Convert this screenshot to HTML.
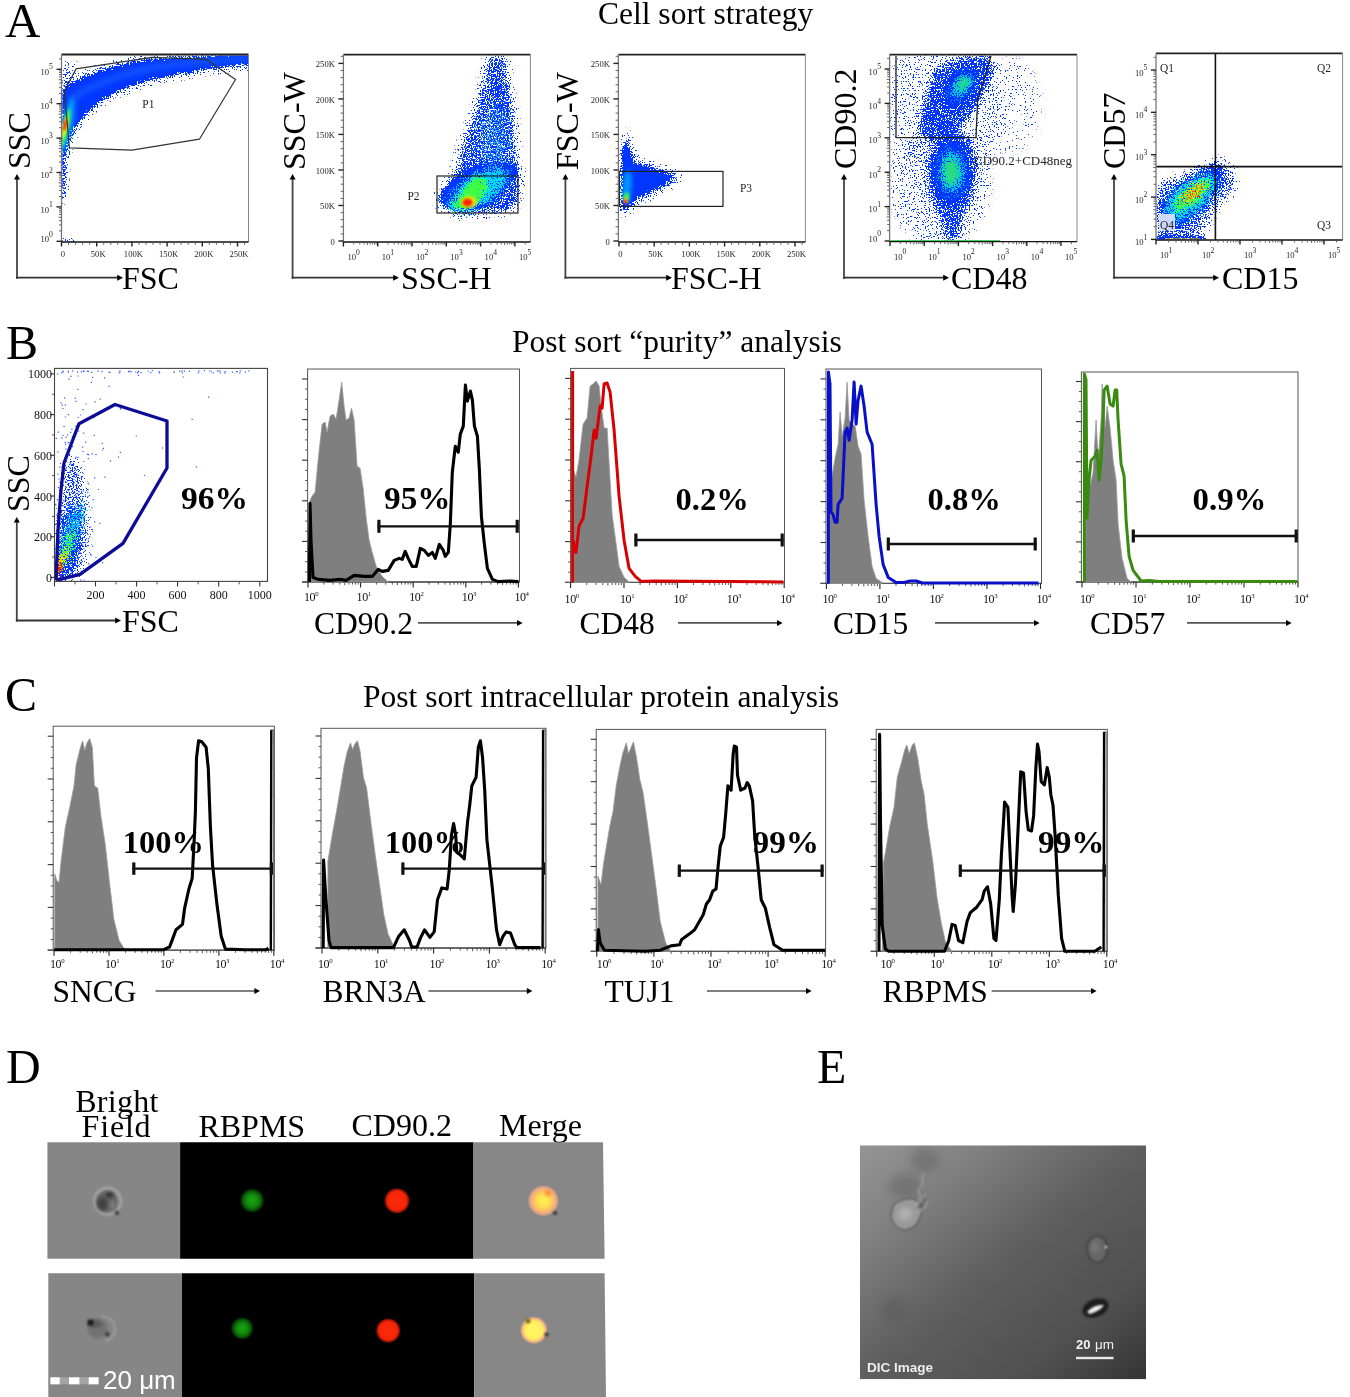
<!DOCTYPE html><html><head><meta charset="utf-8"><title>Figure</title><style>html,body{margin:0;padding:0;background:#fff;width:1350px;height:1397px;overflow:hidden}svg{display:block;will-change:transform}</style></head><body><svg width="1350" height="1397" viewBox="0 0 1350 1397"><defs><filter id="b0.8" x="-50%" y="-50%" width="200%" height="200%"><feGaussianBlur stdDeviation="0.8"/></filter><filter id="b1" x="-50%" y="-50%" width="200%" height="200%"><feGaussianBlur stdDeviation="1"/></filter><filter id="b1.0" x="-50%" y="-50%" width="200%" height="200%"><feGaussianBlur stdDeviation="1.0"/></filter><filter id="b1.2" x="-50%" y="-50%" width="200%" height="200%"><feGaussianBlur stdDeviation="1.2"/></filter><filter id="b1.5" x="-50%" y="-50%" width="200%" height="200%"><feGaussianBlur stdDeviation="1.5"/></filter><filter id="b1.8" x="-50%" y="-50%" width="200%" height="200%"><feGaussianBlur stdDeviation="1.8"/></filter><filter id="b2" x="-50%" y="-50%" width="200%" height="200%"><feGaussianBlur stdDeviation="2"/></filter><filter id="b2.2" x="-50%" y="-50%" width="200%" height="200%"><feGaussianBlur stdDeviation="2.2"/></filter><filter id="b2.5" x="-50%" y="-50%" width="200%" height="200%"><feGaussianBlur stdDeviation="2.5"/></filter><filter id="b3" x="-50%" y="-50%" width="200%" height="200%"><feGaussianBlur stdDeviation="3"/></filter><filter id="b4" x="-50%" y="-50%" width="200%" height="200%"><feGaussianBlur stdDeviation="4"/></filter><filter id="b5" x="-50%" y="-50%" width="200%" height="200%"><feGaussianBlur stdDeviation="5"/></filter><filter id="b6" x="-50%" y="-50%" width="200%" height="200%"><feGaussianBlur stdDeviation="6"/></filter><filter id="spk" filterUnits="userSpaceOnUse" x="0" y="0" width="1350" height="700" color-interpolation-filters="sRGB"><feGaussianBlur in="SourceGraphic" stdDeviation="1.6" result="d"/><feTurbulence type="fractalNoise" baseFrequency="0.75" numOctaves="2" seed="5" result="n"/><feColorMatrix in="n" type="matrix" values="0 0 0 0 0  0 0 0 0 0  0 0 0 0 0  2.5 0 0 0 -0.75" result="na"/><feComposite in="d" in2="na" operator="arithmetic" k1="0" k2="1.25" k3="-1" k4="0" result="diff"/><feColorMatrix in="diff" type="matrix" values="0 0 0 0 0  0 0 0 0 0  0 0 0 0 0  0 0 0 30 0" result="th"/><feFlood flood-color="#0036ff"/><feComposite in2="th" operator="in" result="c"/><feGaussianBlur in="c" stdDeviation="0.5"/></filter><filter id="spkc" filterUnits="userSpaceOnUse" x="0" y="0" width="1350" height="700" color-interpolation-filters="sRGB"><feGaussianBlur in="SourceGraphic" stdDeviation="1.0" result="d"/><feTurbulence type="fractalNoise" baseFrequency="0.8" numOctaves="2" seed="11" result="n"/><feColorMatrix in="n" type="matrix" values="0 0 0 0 0  0 0 0 0 0  0 0 0 0 0  2.5 0 0 0 -0.75" result="na"/><feComposite in="d" in2="na" operator="arithmetic" k1="0" k2="1.25" k3="-1" k4="0" result="diff"/><feColorMatrix in="diff" type="matrix" values="0 0 0 0 0  0 0 0 0 0  0 0 0 0 0  0 0 0 30 0" result="th"/><feColorMatrix in="d" type="matrix" values="1 0 0 0 0  0 1 0 0 0  0 0 1 0 0  0 0 0 0 1" result="col"/><feComposite in="col" in2="th" operator="in" result="c"/><feGaussianBlur in="c" stdDeviation="0.3"/></filter><filter id="s1" filterUnits="userSpaceOnUse" x="0" y="0" width="1350" height="700" color-interpolation-filters="sRGB"><feGaussianBlur in="SourceGraphic" stdDeviation="0.8" result="d"/><feTurbulence type="fractalNoise" baseFrequency="0.85" numOctaves="2" seed="23" result="n"/><feColorMatrix in="n" type="matrix" values="0 0 0 0 0  0 0 0 0 0  0 0 0 0 0  2.5 0 0 0 -0.75" result="na"/><feComposite in="d" in2="na" operator="arithmetic" k1="0" k2="1.2" k3="-1" k4="0" result="diff"/><feColorMatrix in="diff" type="matrix" values="0 0 0 0 0  0 0 0 0 0  0 0 0 0 0  0 0 0 30 0" result="th"/><feColorMatrix in="d" type="matrix" values="1 0 0 0 0  0 1 0 0 0  0 0 1 0 0  0 0 0 0 1" result="col"/><feComposite in="col" in2="th" operator="in" result="c"/><feGaussianBlur in="c" stdDeviation="0.45"/></filter><filter id="s2" filterUnits="userSpaceOnUse" x="0" y="0" width="1350" height="700" color-interpolation-filters="sRGB"><feGaussianBlur in="SourceGraphic" stdDeviation="0.8" result="d"/><feTurbulence type="fractalNoise" baseFrequency="0.85" numOctaves="2" seed="41" result="n"/><feColorMatrix in="n" type="matrix" values="0 0 0 0 0  0 0 0 0 0  0 0 0 0 0  2.5 0 0 0 -0.75" result="na"/><feComposite in="d" in2="na" operator="arithmetic" k1="0" k2="1.2" k3="-1" k4="0" result="diff"/><feColorMatrix in="diff" type="matrix" values="0 0 0 0 0  0 0 0 0 0  0 0 0 0 0  0 0 0 30 0" result="th"/><feColorMatrix in="d" type="matrix" values="1 0 0 0 0  0 1 0 0 0  0 0 1 0 0  0 0 0 0 1" result="col"/><feComposite in="col" in2="th" operator="in" result="c"/><feGaussianBlur in="c" stdDeviation="0.45"/></filter><filter id="s3" filterUnits="userSpaceOnUse" x="0" y="0" width="1350" height="700" color-interpolation-filters="sRGB"><feGaussianBlur in="SourceGraphic" stdDeviation="0.8" result="d"/><feTurbulence type="fractalNoise" baseFrequency="0.85" numOctaves="2" seed="67" result="n"/><feColorMatrix in="n" type="matrix" values="0 0 0 0 0  0 0 0 0 0  0 0 0 0 0  2.5 0 0 0 -0.75" result="na"/><feComposite in="d" in2="na" operator="arithmetic" k1="0" k2="1.2" k3="-1" k4="0" result="diff"/><feColorMatrix in="diff" type="matrix" values="0 0 0 0 0  0 0 0 0 0  0 0 0 0 0  0 0 0 30 0" result="th"/><feColorMatrix in="d" type="matrix" values="1 0 0 0 0  0 1 0 0 0  0 0 1 0 0  0 0 0 0 1" result="col"/><feComposite in="col" in2="th" operator="in" result="c"/><feGaussianBlur in="c" stdDeviation="0.45"/></filter><clipPath id="c1"><rect x="62.2" y="55.5" width="186.3" height="186"/></clipPath><clipPath id="c2"><rect x="344.1" y="55.6" width="186.3" height="185.9"/></clipPath><clipPath id="c3"><rect x="619.1" y="55.6" width="186.3" height="185.9"/></clipPath><clipPath id="c4"><rect x="890.3" y="55.6" width="186.7" height="185.5"/></clipPath><clipPath id="c5"><rect x="1156.7" y="54.4" width="185.9" height="185.1"/></clipPath><clipPath id="c6"><rect x="55" y="368.9" width="212" height="212"/></clipPath><radialGradient id="gG"><stop offset="0" stop-color="#1aa810"/><stop offset="0.45" stop-color="#108a0c"/><stop offset="0.75" stop-color="#084a06"/><stop offset="1" stop-color="#000" stop-opacity="0"/></radialGradient><radialGradient id="gR"><stop offset="0" stop-color="#fa2a0a"/><stop offset="0.7" stop-color="#f52508"/><stop offset="0.88" stop-color="#801004"/><stop offset="1" stop-color="#000" stop-opacity="0"/></radialGradient><radialGradient id="gM1"><stop offset="0" stop-color="#fff45a"/><stop offset="0.45" stop-color="#fcd850"/><stop offset="0.75" stop-color="#f6ae7a"/><stop offset="0.9" stop-color="#d8a090" stop-opacity="0.8"/><stop offset="1" stop-color="#888" stop-opacity="0"/></radialGradient><radialGradient id="gM2"><stop offset="0" stop-color="#fff864"/><stop offset="0.6" stop-color="#fff060"/><stop offset="0.8" stop-color="#f8b880"/><stop offset="0.92" stop-color="#c09890" stop-opacity="0.7"/><stop offset="1" stop-color="#888" stop-opacity="0"/></radialGradient><radialGradient id="gBF"><stop offset="0" stop-color="#606060"/><stop offset="0.6" stop-color="#4c4c4c"/><stop offset="0.72" stop-color="#6a6a6a"/><stop offset="0.86" stop-color="#a0a0a0"/><stop offset="1" stop-color="#868686" stop-opacity="0"/></radialGradient><linearGradient id="gDIC2" x1="0" y1="0" x2="1" y2="1"><stop offset="0" stop-color="#959595"/><stop offset="0.22" stop-color="#808080"/><stop offset="0.5" stop-color="#5e5e5e"/><stop offset="0.78" stop-color="#505050"/><stop offset="1" stop-color="#343434"/></linearGradient><clipPath id="cDIC"><rect x="860" y="1145.3" width="286" height="234"/></clipPath></defs><text x="5" y="37" font-size="49" fill="#000" font-family='"Liberation Serif", serif'>A</text>
<text x="6" y="358.6" font-size="48" fill="#000" font-family='"Liberation Serif", serif'>B</text>
<text x="5" y="710.5" font-size="48" fill="#000" font-family='"Liberation Serif", serif'>C</text>
<text x="6" y="1082.7" font-size="48" fill="#000" font-family='"Liberation Serif", serif'>D</text>
<text x="817" y="1082.7" font-size="48" fill="#000" font-family='"Liberation Serif", serif'>E</text>
<text x="598" y="24" font-size="31.5" fill="#000" font-family='"Liberation Serif", serif'>Cell sort strategy</text>
<text x="512" y="351.5" font-size="31.5" fill="#000" font-family='"Liberation Serif", serif'>Post sort “purity” analysis</text>
<text x="363" y="707" font-size="31.5" fill="#000" font-family='"Liberation Serif", serif'>Post sort intracellular protein analysis</text>
<g clip-path="url(#c1)">
<g filter="url(#spk)">
<polygon points="62,90 63.9,88 69.8,82 84.6,74.6 99.4,68.7 121.7,62.8 143.9,58.3 173.5,55.4 203,53.9 252,51 254,65.5 205,71 190.3,74 160.7,79.4 138.5,85.5 116.3,94 101.4,103 86.6,116.5 76.3,128.5 67.9,146.5 65,167.5 63,177.5" fill="#000" fill-opacity="0.4" filter="url(#b2.5)"/>
<polygon points="62,93 63.9,91 69.8,85 84.6,77.6 99.4,71.7 121.7,65.8 143.9,61.3 173.5,58.4 203,56.9 252,54 252,63 203,68.5 188.3,71.5 158.7,76.9 136.5,83 114.3,91.5 99.4,100.5 84.6,114 74.3,126 66.9,144 64,165 62,175" fill="#000" fill-opacity="0.92" filter="url(#b1.0)"/>
<polygon points="61,60 68,72 76,64 70,90 62,100" fill="#000" fill-opacity="0.35" filter="url(#b3)"/>
<polygon points="61,165 66,165 65,195 61,205" fill="#000" fill-opacity="0.6" filter="url(#b1.5)"/>
<polygon points="62,240.5 75,240.5 75,242.5 62,242.5" fill="#000"/>
</g>
<polyline points="70,100 85,90 100,84 125,74 160,66 200,62 250,58" fill="none" stroke="#3a8cff" stroke-width="6" stroke-linejoin="round" opacity="0.4" filter="url(#b3)"/>
<ellipse cx="67" cy="125" rx="5" ry="28" fill="#00d8ff" fill-opacity="0.7" filter="url(#b2.5)" transform="rotate(12 67 125)"/>
<ellipse cx="65.5" cy="128" rx="3" ry="20" fill="#40ff40" fill-opacity="0.85" filter="url(#b1.8)" transform="rotate(12 65.5 128)"/>
<ellipse cx="65" cy="127" rx="2.2" ry="12" fill="#ffee00" fill-opacity="0.9" filter="url(#b1.2)" transform="rotate(12 65 127)"/>
<ellipse cx="65" cy="125" rx="1.6" ry="6" fill="#ff2000" filter="url(#b1)" transform="rotate(12 65 125)"/>
</g>
<polyline points="64.5,91 76,68.9 152,57.3 206,59.3 235.5,79.5 199.4,139.2 132,150.2 69.4,147.9 64.5,91" fill="none" stroke="#333" stroke-width="1.2" stroke-linejoin="round"/>
<text x="148.4" y="107.5" font-size="11.5" text-anchor="middle" fill="#222" font-family='"Liberation Serif", serif'>P1</text>
<line x1="61.5" y1="54.5" x2="248.5" y2="54.5" stroke="#222" stroke-width="1.8"/>
<line x1="248.5" y1="54.5" x2="248.5" y2="242" stroke="#888" stroke-width="1.0"/>
<line x1="61.5" y1="54.5" x2="61.5" y2="242" stroke="#777" stroke-width="1.3"/>
<line x1="61.5" y1="242" x2="248.5" y2="242" stroke="#111" stroke-width="1.4"/>
<line x1="61.5" y1="242" x2="61.5" y2="246.5" stroke="#222" stroke-width="1.4"/>
<text x="63" y="256.5" font-size="8.6" text-anchor="middle" fill="#262626" font-family='"Liberation Serif", serif'>0</text>
<line x1="96.7" y1="242" x2="96.7" y2="246.5" stroke="#222" stroke-width="1.4"/>
<text x="98.2" y="256.5" font-size="8.6" text-anchor="middle" fill="#262626" font-family='"Liberation Serif", serif'>50K</text>
<line x1="131.9" y1="242" x2="131.9" y2="246.5" stroke="#222" stroke-width="1.4"/>
<text x="133.4" y="256.5" font-size="8.6" text-anchor="middle" fill="#262626" font-family='"Liberation Serif", serif'>100K</text>
<line x1="167.1" y1="242" x2="167.1" y2="246.5" stroke="#222" stroke-width="1.4"/>
<text x="168.6" y="256.5" font-size="8.6" text-anchor="middle" fill="#262626" font-family='"Liberation Serif", serif'>150K</text>
<line x1="202.3" y1="242" x2="202.3" y2="246.5" stroke="#222" stroke-width="1.4"/>
<text x="203.8" y="256.5" font-size="8.6" text-anchor="middle" fill="#262626" font-family='"Liberation Serif", serif'>200K</text>
<line x1="237.5" y1="242" x2="237.5" y2="246.5" stroke="#222" stroke-width="1.4"/>
<text x="239" y="256.5" font-size="8.6" text-anchor="middle" fill="#262626" font-family='"Liberation Serif", serif'>250K</text>
<line x1="68.5" y1="242" x2="68.5" y2="244.8" stroke="#555" stroke-width="0.9"/>
<line x1="75.6" y1="242" x2="75.6" y2="244.8" stroke="#555" stroke-width="0.9"/>
<line x1="82.6" y1="242" x2="82.6" y2="244.8" stroke="#555" stroke-width="0.9"/>
<line x1="89.7" y1="242" x2="89.7" y2="244.8" stroke="#555" stroke-width="0.9"/>
<line x1="103.7" y1="242" x2="103.7" y2="244.8" stroke="#555" stroke-width="0.9"/>
<line x1="110.8" y1="242" x2="110.8" y2="244.8" stroke="#555" stroke-width="0.9"/>
<line x1="117.8" y1="242" x2="117.8" y2="244.8" stroke="#555" stroke-width="0.9"/>
<line x1="124.9" y1="242" x2="124.9" y2="244.8" stroke="#555" stroke-width="0.9"/>
<line x1="138.9" y1="242" x2="138.9" y2="244.8" stroke="#555" stroke-width="0.9"/>
<line x1="146" y1="242" x2="146" y2="244.8" stroke="#555" stroke-width="0.9"/>
<line x1="153" y1="242" x2="153" y2="244.8" stroke="#555" stroke-width="0.9"/>
<line x1="160.1" y1="242" x2="160.1" y2="244.8" stroke="#555" stroke-width="0.9"/>
<line x1="174.1" y1="242" x2="174.1" y2="244.8" stroke="#555" stroke-width="0.9"/>
<line x1="181.2" y1="242" x2="181.2" y2="244.8" stroke="#555" stroke-width="0.9"/>
<line x1="188.2" y1="242" x2="188.2" y2="244.8" stroke="#555" stroke-width="0.9"/>
<line x1="195.3" y1="242" x2="195.3" y2="244.8" stroke="#555" stroke-width="0.9"/>
<line x1="209.3" y1="242" x2="209.3" y2="244.8" stroke="#555" stroke-width="0.9"/>
<line x1="216.4" y1="242" x2="216.4" y2="244.8" stroke="#555" stroke-width="0.9"/>
<line x1="223.4" y1="242" x2="223.4" y2="244.8" stroke="#555" stroke-width="0.9"/>
<line x1="230.5" y1="242" x2="230.5" y2="244.8" stroke="#555" stroke-width="0.9"/>
<line x1="244.5" y1="242" x2="244.5" y2="244.8" stroke="#555" stroke-width="0.9"/>
<line x1="56.5" y1="241.3" x2="61.5" y2="241.3" stroke="#222" stroke-width="1.4"/>
<text x="40.5" y="242.1" font-size="8.6" fill="#262626" font-family='"Liberation Serif", serif'>10<tspan dy="-5.5" font-size="7.6">0</tspan></text>
<line x1="59" y1="230.9" x2="61.5" y2="230.9" stroke="#555" stroke-width="0.9"/>
<line x1="59" y1="224.9" x2="61.5" y2="224.9" stroke="#555" stroke-width="0.9"/>
<line x1="59" y1="220.6" x2="61.5" y2="220.6" stroke="#555" stroke-width="0.9"/>
<line x1="58.5" y1="217.3" x2="61.5" y2="217.3" stroke="#555" stroke-width="0.9"/>
<line x1="59" y1="214.5" x2="61.5" y2="214.5" stroke="#555" stroke-width="0.9"/>
<line x1="59" y1="212.2" x2="61.5" y2="212.2" stroke="#555" stroke-width="0.9"/>
<line x1="59" y1="210.2" x2="61.5" y2="210.2" stroke="#555" stroke-width="0.9"/>
<line x1="59" y1="208.5" x2="61.5" y2="208.5" stroke="#555" stroke-width="0.9"/>
<line x1="56.5" y1="206.9" x2="61.5" y2="206.9" stroke="#222" stroke-width="1.4"/>
<text x="40.5" y="212.5" font-size="8.6" fill="#262626" font-family='"Liberation Serif", serif'>10<tspan dy="-5.5" font-size="7.6">1</tspan></text>
<line x1="59" y1="196.5" x2="61.5" y2="196.5" stroke="#555" stroke-width="0.9"/>
<line x1="59" y1="190.5" x2="61.5" y2="190.5" stroke="#555" stroke-width="0.9"/>
<line x1="59" y1="186.2" x2="61.5" y2="186.2" stroke="#555" stroke-width="0.9"/>
<line x1="58.5" y1="182.9" x2="61.5" y2="182.9" stroke="#555" stroke-width="0.9"/>
<line x1="59" y1="180.1" x2="61.5" y2="180.1" stroke="#555" stroke-width="0.9"/>
<line x1="59" y1="177.8" x2="61.5" y2="177.8" stroke="#555" stroke-width="0.9"/>
<line x1="59" y1="175.8" x2="61.5" y2="175.8" stroke="#555" stroke-width="0.9"/>
<line x1="59" y1="174.1" x2="61.5" y2="174.1" stroke="#555" stroke-width="0.9"/>
<line x1="56.5" y1="172.5" x2="61.5" y2="172.5" stroke="#222" stroke-width="1.4"/>
<text x="40.5" y="178.1" font-size="8.6" fill="#262626" font-family='"Liberation Serif", serif'>10<tspan dy="-5.5" font-size="7.6">2</tspan></text>
<line x1="59" y1="162.1" x2="61.5" y2="162.1" stroke="#555" stroke-width="0.9"/>
<line x1="59" y1="156.1" x2="61.5" y2="156.1" stroke="#555" stroke-width="0.9"/>
<line x1="59" y1="151.8" x2="61.5" y2="151.8" stroke="#555" stroke-width="0.9"/>
<line x1="58.5" y1="148.5" x2="61.5" y2="148.5" stroke="#555" stroke-width="0.9"/>
<line x1="59" y1="145.7" x2="61.5" y2="145.7" stroke="#555" stroke-width="0.9"/>
<line x1="59" y1="143.4" x2="61.5" y2="143.4" stroke="#555" stroke-width="0.9"/>
<line x1="59" y1="141.4" x2="61.5" y2="141.4" stroke="#555" stroke-width="0.9"/>
<line x1="59" y1="139.7" x2="61.5" y2="139.7" stroke="#555" stroke-width="0.9"/>
<line x1="56.5" y1="138.1" x2="61.5" y2="138.1" stroke="#222" stroke-width="1.4"/>
<text x="40.5" y="143.7" font-size="8.6" fill="#262626" font-family='"Liberation Serif", serif'>10<tspan dy="-5.5" font-size="7.6">3</tspan></text>
<line x1="59" y1="127.7" x2="61.5" y2="127.7" stroke="#555" stroke-width="0.9"/>
<line x1="59" y1="121.7" x2="61.5" y2="121.7" stroke="#555" stroke-width="0.9"/>
<line x1="59" y1="117.4" x2="61.5" y2="117.4" stroke="#555" stroke-width="0.9"/>
<line x1="58.5" y1="114.1" x2="61.5" y2="114.1" stroke="#555" stroke-width="0.9"/>
<line x1="59" y1="111.3" x2="61.5" y2="111.3" stroke="#555" stroke-width="0.9"/>
<line x1="59" y1="109" x2="61.5" y2="109" stroke="#555" stroke-width="0.9"/>
<line x1="59" y1="107" x2="61.5" y2="107" stroke="#555" stroke-width="0.9"/>
<line x1="59" y1="105.3" x2="61.5" y2="105.3" stroke="#555" stroke-width="0.9"/>
<line x1="56.5" y1="103.7" x2="61.5" y2="103.7" stroke="#222" stroke-width="1.4"/>
<text x="40.5" y="109.3" font-size="8.6" fill="#262626" font-family='"Liberation Serif", serif'>10<tspan dy="-5.5" font-size="7.6">4</tspan></text>
<line x1="59" y1="93.3" x2="61.5" y2="93.3" stroke="#555" stroke-width="0.9"/>
<line x1="59" y1="87.3" x2="61.5" y2="87.3" stroke="#555" stroke-width="0.9"/>
<line x1="59" y1="83" x2="61.5" y2="83" stroke="#555" stroke-width="0.9"/>
<line x1="58.5" y1="79.7" x2="61.5" y2="79.7" stroke="#555" stroke-width="0.9"/>
<line x1="59" y1="76.9" x2="61.5" y2="76.9" stroke="#555" stroke-width="0.9"/>
<line x1="59" y1="74.6" x2="61.5" y2="74.6" stroke="#555" stroke-width="0.9"/>
<line x1="59" y1="72.6" x2="61.5" y2="72.6" stroke="#555" stroke-width="0.9"/>
<line x1="59" y1="70.9" x2="61.5" y2="70.9" stroke="#555" stroke-width="0.9"/>
<line x1="56.5" y1="69.3" x2="61.5" y2="69.3" stroke="#222" stroke-width="1.4"/>
<text x="40.5" y="74.9" font-size="8.6" fill="#262626" font-family='"Liberation Serif", serif'>10<tspan dy="-5.5" font-size="7.6">5</tspan></text>
<line x1="59" y1="58.9" x2="61.5" y2="58.9" stroke="#555" stroke-width="0.9"/>
<text transform="translate(30,169) rotate(-90)" font-size="32" fill="#000" font-family='"Liberation Serif", serif'>SSC</text>
<text x="122" y="288.5" font-size="32" fill="#000" font-family='"Liberation Serif", serif'>FSC</text>
<line x1="17" y1="278.7" x2="17" y2="179" stroke="#444" stroke-width="1.8"/>
<line x1="16.1" y1="277.7" x2="118" y2="277.7" stroke="#333" stroke-width="1.8"/>
<polygon points="17,174 14,179.6 20,179.6" fill="#000" stroke="none" stroke-width="1"/>
<polygon points="123,277.7 117.2,274.7 117.2,280.7" fill="#000" stroke="none" stroke-width="1"/>
<g clip-path="url(#c2)">
<g filter="url(#spk)">
<polygon points="487.9,56 507,56 509.1,80 515.4,120 517.6,160 521.8,172 517.6,200 504.8,212 479.4,214 458.2,216 441.2,208 434.9,198 441.2,188 454,172 458.2,152 464.6,132 475.2,108 483.6,80" fill="#000" fill-opacity="0.2" filter="url(#b3)"/>
<polygon points="488.1,56 505.4,56 507.3,80 513,120 515,160 518.8,172 515,200 503.4,212 480.4,214 461.2,216 445.8,208 440.1,198 445.8,188 457.4,172 461.2,152 467,132 476.6,108 484.2,80" fill="#000" fill-opacity="0.36" filter="url(#b2)"/>
<ellipse cx="500" cy="120" rx="9" ry="40" fill="#000" fill-opacity="0.2" filter="url(#b4)"/>
<polygon points="439,199 446,205 455,209 470,210 483,208 493,203 502,194 510,184 516,174 518,165 505,162 485,164 466,170 452,182 442,192" fill="#000" fill-opacity="0.92" filter="url(#b1.5)"/>
<polygon points="495,208 505,200 515,186 520,180 518,205 505,212" fill="#000" fill-opacity="0.3" filter="url(#b2)"/>
</g>
<g filter="url(#s1)">
<ellipse cx="495" cy="140" rx="14" ry="35" fill="#30b0ff" fill-opacity="0.35" filter="url(#b5)"/>
<polygon points="446,206 455,195 465,180 478,173 500,170 510,176 500,192 486,204 468,210 455,211" fill="#00d8ff" fill-opacity="0.7" filter="url(#b3)"/>
</g>
<g filter="url(#s2)">
<polygon points="452,207 458,198 466,186 474,178 484,178 488,186 482,198 472,206 462,209" fill="#40ff40" fill-opacity="0.85" filter="url(#b2)"/>
</g>
<ellipse cx="469" cy="202" rx="8" ry="6" fill="#ffe000" fill-opacity="0.9" filter="url(#b1.5)"/>
<ellipse cx="467.5" cy="202.5" rx="5" ry="3.8" fill="#ff2000" filter="url(#b1)"/>
</g>
<rect x="437" y="176" width="81" height="37" fill="none" stroke="#222" stroke-width="1.2"/>
<text x="413.5" y="199.5" font-size="11.5" text-anchor="middle" fill="#222" font-family='"Liberation Serif", serif'>P2</text>
<line x1="343.4" y1="54.6" x2="530.4" y2="54.6" stroke="#222" stroke-width="1.8"/>
<line x1="530.4" y1="54.6" x2="530.4" y2="242" stroke="#888" stroke-width="1.0"/>
<line x1="343.4" y1="54.6" x2="343.4" y2="242" stroke="#777" stroke-width="1.3"/>
<line x1="343.4" y1="242" x2="530.4" y2="242" stroke="#111" stroke-width="1.4"/>
<line x1="343.4" y1="242" x2="343.4" y2="246.5" stroke="#222" stroke-width="1.4"/>
<text x="347.4" y="260.2" font-size="8.6" fill="#262626" font-family='"Liberation Serif", serif'>10<tspan dy="-5.5" font-size="7.6">0</tspan></text>
<line x1="353.7" y1="242" x2="353.7" y2="244.5" stroke="#555" stroke-width="0.9"/>
<line x1="359.8" y1="242" x2="359.8" y2="244.5" stroke="#555" stroke-width="0.9"/>
<line x1="364.1" y1="242" x2="364.1" y2="244.5" stroke="#555" stroke-width="0.9"/>
<line x1="367.4" y1="242" x2="367.4" y2="245" stroke="#555" stroke-width="0.9"/>
<line x1="370.1" y1="242" x2="370.1" y2="244.5" stroke="#555" stroke-width="0.9"/>
<line x1="372.4" y1="242" x2="372.4" y2="244.5" stroke="#555" stroke-width="0.9"/>
<line x1="374.4" y1="242" x2="374.4" y2="244.5" stroke="#555" stroke-width="0.9"/>
<line x1="376.1" y1="242" x2="376.1" y2="244.5" stroke="#555" stroke-width="0.9"/>
<line x1="377.7" y1="242" x2="377.7" y2="246.5" stroke="#222" stroke-width="1.4"/>
<text x="381.7" y="260.2" font-size="8.6" fill="#262626" font-family='"Liberation Serif", serif'>10<tspan dy="-5.5" font-size="7.6">1</tspan></text>
<line x1="388" y1="242" x2="388" y2="244.5" stroke="#555" stroke-width="0.9"/>
<line x1="394.1" y1="242" x2="394.1" y2="244.5" stroke="#555" stroke-width="0.9"/>
<line x1="398.4" y1="242" x2="398.4" y2="244.5" stroke="#555" stroke-width="0.9"/>
<line x1="401.7" y1="242" x2="401.7" y2="245" stroke="#555" stroke-width="0.9"/>
<line x1="404.4" y1="242" x2="404.4" y2="244.5" stroke="#555" stroke-width="0.9"/>
<line x1="406.7" y1="242" x2="406.7" y2="244.5" stroke="#555" stroke-width="0.9"/>
<line x1="408.7" y1="242" x2="408.7" y2="244.5" stroke="#555" stroke-width="0.9"/>
<line x1="410.4" y1="242" x2="410.4" y2="244.5" stroke="#555" stroke-width="0.9"/>
<line x1="412" y1="242" x2="412" y2="246.5" stroke="#222" stroke-width="1.4"/>
<text x="416" y="260.2" font-size="8.6" fill="#262626" font-family='"Liberation Serif", serif'>10<tspan dy="-5.5" font-size="7.6">2</tspan></text>
<line x1="422.3" y1="242" x2="422.3" y2="244.5" stroke="#555" stroke-width="0.9"/>
<line x1="428.4" y1="242" x2="428.4" y2="244.5" stroke="#555" stroke-width="0.9"/>
<line x1="432.7" y1="242" x2="432.7" y2="244.5" stroke="#555" stroke-width="0.9"/>
<line x1="436" y1="242" x2="436" y2="245" stroke="#555" stroke-width="0.9"/>
<line x1="438.7" y1="242" x2="438.7" y2="244.5" stroke="#555" stroke-width="0.9"/>
<line x1="441" y1="242" x2="441" y2="244.5" stroke="#555" stroke-width="0.9"/>
<line x1="443" y1="242" x2="443" y2="244.5" stroke="#555" stroke-width="0.9"/>
<line x1="444.7" y1="242" x2="444.7" y2="244.5" stroke="#555" stroke-width="0.9"/>
<line x1="446.3" y1="242" x2="446.3" y2="246.5" stroke="#222" stroke-width="1.4"/>
<text x="450.3" y="260.2" font-size="8.6" fill="#262626" font-family='"Liberation Serif", serif'>10<tspan dy="-5.5" font-size="7.6">3</tspan></text>
<line x1="456.6" y1="242" x2="456.6" y2="244.5" stroke="#555" stroke-width="0.9"/>
<line x1="462.7" y1="242" x2="462.7" y2="244.5" stroke="#555" stroke-width="0.9"/>
<line x1="467" y1="242" x2="467" y2="244.5" stroke="#555" stroke-width="0.9"/>
<line x1="470.3" y1="242" x2="470.3" y2="245" stroke="#555" stroke-width="0.9"/>
<line x1="473" y1="242" x2="473" y2="244.5" stroke="#555" stroke-width="0.9"/>
<line x1="475.3" y1="242" x2="475.3" y2="244.5" stroke="#555" stroke-width="0.9"/>
<line x1="477.3" y1="242" x2="477.3" y2="244.5" stroke="#555" stroke-width="0.9"/>
<line x1="479" y1="242" x2="479" y2="244.5" stroke="#555" stroke-width="0.9"/>
<line x1="480.6" y1="242" x2="480.6" y2="246.5" stroke="#222" stroke-width="1.4"/>
<text x="484.6" y="260.2" font-size="8.6" fill="#262626" font-family='"Liberation Serif", serif'>10<tspan dy="-5.5" font-size="7.6">4</tspan></text>
<line x1="490.9" y1="242" x2="490.9" y2="244.5" stroke="#555" stroke-width="0.9"/>
<line x1="497" y1="242" x2="497" y2="244.5" stroke="#555" stroke-width="0.9"/>
<line x1="501.3" y1="242" x2="501.3" y2="244.5" stroke="#555" stroke-width="0.9"/>
<line x1="504.6" y1="242" x2="504.6" y2="245" stroke="#555" stroke-width="0.9"/>
<line x1="507.3" y1="242" x2="507.3" y2="244.5" stroke="#555" stroke-width="0.9"/>
<line x1="509.6" y1="242" x2="509.6" y2="244.5" stroke="#555" stroke-width="0.9"/>
<line x1="511.6" y1="242" x2="511.6" y2="244.5" stroke="#555" stroke-width="0.9"/>
<line x1="513.3" y1="242" x2="513.3" y2="244.5" stroke="#555" stroke-width="0.9"/>
<line x1="514.9" y1="242" x2="514.9" y2="246.5" stroke="#222" stroke-width="1.4"/>
<text x="518.9" y="260.2" font-size="8.6" fill="#262626" font-family='"Liberation Serif", serif'>10<tspan dy="-5.5" font-size="7.6">5</tspan></text>
<line x1="525.2" y1="242" x2="525.2" y2="244.5" stroke="#555" stroke-width="0.9"/>
<line x1="338.4" y1="241" x2="343.4" y2="241" stroke="#222" stroke-width="1.4"/>
<text x="334.9" y="244.8" font-size="8.6" text-anchor="end" fill="#262626" font-family='"Liberation Serif", serif'>0</text>
<line x1="338.4" y1="205.5" x2="343.4" y2="205.5" stroke="#222" stroke-width="1.4"/>
<text x="334.9" y="209.3" font-size="8.6" text-anchor="end" fill="#262626" font-family='"Liberation Serif", serif'>50K</text>
<line x1="338.4" y1="170" x2="343.4" y2="170" stroke="#222" stroke-width="1.4"/>
<text x="334.9" y="173.8" font-size="8.6" text-anchor="end" fill="#262626" font-family='"Liberation Serif", serif'>100K</text>
<line x1="338.4" y1="134.4" x2="343.4" y2="134.4" stroke="#222" stroke-width="1.4"/>
<text x="334.9" y="138.2" font-size="8.6" text-anchor="end" fill="#262626" font-family='"Liberation Serif", serif'>150K</text>
<line x1="338.4" y1="98.9" x2="343.4" y2="98.9" stroke="#222" stroke-width="1.4"/>
<text x="334.9" y="102.7" font-size="8.6" text-anchor="end" fill="#262626" font-family='"Liberation Serif", serif'>200K</text>
<line x1="338.4" y1="63.4" x2="343.4" y2="63.4" stroke="#222" stroke-width="1.4"/>
<text x="334.9" y="67.2" font-size="8.6" text-anchor="end" fill="#262626" font-family='"Liberation Serif", serif'>250K</text>
<line x1="340.6" y1="233.9" x2="343.4" y2="233.9" stroke="#555" stroke-width="0.9"/>
<line x1="340.6" y1="226.8" x2="343.4" y2="226.8" stroke="#555" stroke-width="0.9"/>
<line x1="340.6" y1="219.7" x2="343.4" y2="219.7" stroke="#555" stroke-width="0.9"/>
<line x1="340.6" y1="212.6" x2="343.4" y2="212.6" stroke="#555" stroke-width="0.9"/>
<line x1="340.6" y1="198.4" x2="343.4" y2="198.4" stroke="#555" stroke-width="0.9"/>
<line x1="340.6" y1="191.3" x2="343.4" y2="191.3" stroke="#555" stroke-width="0.9"/>
<line x1="340.6" y1="184.2" x2="343.4" y2="184.2" stroke="#555" stroke-width="0.9"/>
<line x1="340.6" y1="177.1" x2="343.4" y2="177.1" stroke="#555" stroke-width="0.9"/>
<line x1="340.6" y1="162.9" x2="343.4" y2="162.9" stroke="#555" stroke-width="0.9"/>
<line x1="340.6" y1="155.8" x2="343.4" y2="155.8" stroke="#555" stroke-width="0.9"/>
<line x1="340.6" y1="148.6" x2="343.4" y2="148.6" stroke="#555" stroke-width="0.9"/>
<line x1="340.6" y1="141.5" x2="343.4" y2="141.5" stroke="#555" stroke-width="0.9"/>
<line x1="340.6" y1="127.3" x2="343.4" y2="127.3" stroke="#555" stroke-width="0.9"/>
<line x1="340.6" y1="120.2" x2="343.4" y2="120.2" stroke="#555" stroke-width="0.9"/>
<line x1="340.6" y1="113.1" x2="343.4" y2="113.1" stroke="#555" stroke-width="0.9"/>
<line x1="340.6" y1="106" x2="343.4" y2="106" stroke="#555" stroke-width="0.9"/>
<line x1="340.6" y1="91.8" x2="343.4" y2="91.8" stroke="#555" stroke-width="0.9"/>
<line x1="340.6" y1="84.7" x2="343.4" y2="84.7" stroke="#555" stroke-width="0.9"/>
<line x1="340.6" y1="77.6" x2="343.4" y2="77.6" stroke="#555" stroke-width="0.9"/>
<line x1="340.6" y1="70.5" x2="343.4" y2="70.5" stroke="#555" stroke-width="0.9"/>
<line x1="340.6" y1="56.3" x2="343.4" y2="56.3" stroke="#555" stroke-width="0.9"/>
<text transform="translate(305,170) rotate(-90)" font-size="32" fill="#000" font-family='"Liberation Serif", serif'>SSC-W</text>
<text x="401" y="289" font-size="32" fill="#000" font-family='"Liberation Serif", serif'>SSC-H</text>
<line x1="292.6" y1="278.7" x2="292.6" y2="179" stroke="#444" stroke-width="1.8"/>
<line x1="291.7" y1="277.7" x2="394" y2="277.7" stroke="#333" stroke-width="1.8"/>
<polygon points="292.6,174 289.6,179.6 295.6,179.6" fill="#000" stroke="none" stroke-width="1"/>
<polygon points="399,277.7 393.2,274.7 393.2,280.7" fill="#000" stroke="none" stroke-width="1"/>
<g clip-path="url(#c3)">
<g filter="url(#spk)">
<polygon points="622,214 621,150 625,130 632,148 636,161 652,164 668,170 680,178 664,190 647,197 636,203 630,210" fill="#000" fill-opacity="0.4" filter="url(#b2.5)"/>
<polygon points="622,212 622,150 626,142 631,152 634,164 650,168 665,173 673,178 660,187 645,193 635,198 629,205" fill="#000" fill-opacity="0.9" filter="url(#b1.2)"/>
</g>
<ellipse cx="627" cy="186" rx="4.5" ry="16" fill="#00d8ff" fill-opacity="0.6" filter="url(#b2.2)" transform="rotate(5 627 186)"/>
<ellipse cx="626.5" cy="197" rx="3.2" ry="5" fill="#40ff40" fill-opacity="0.85" filter="url(#b1.5)"/>
<ellipse cx="625.8" cy="200" rx="2" ry="3" fill="#ffd000" fill-opacity="0.8" filter="url(#b1)"/>
<ellipse cx="625.5" cy="201.5" rx="1.6" ry="2.2" fill="#ff3000" filter="url(#b0.8)"/>
</g>
<rect x="619.4" y="171.4" width="103.6" height="35" fill="none" stroke="#222" stroke-width="1.2"/>
<text x="746" y="191.5" font-size="11.5" text-anchor="middle" fill="#222" font-family='"Liberation Serif", serif'>P3</text>
<line x1="618.4" y1="54.6" x2="805.4" y2="54.6" stroke="#222" stroke-width="1.8"/>
<line x1="805.4" y1="54.6" x2="805.4" y2="242" stroke="#888" stroke-width="1.0"/>
<line x1="618.4" y1="54.6" x2="618.4" y2="242" stroke="#777" stroke-width="1.3"/>
<line x1="618.4" y1="242" x2="805.4" y2="242" stroke="#111" stroke-width="1.4"/>
<line x1="619" y1="242" x2="619" y2="246.5" stroke="#222" stroke-width="1.4"/>
<text x="620.5" y="256.5" font-size="8.6" text-anchor="middle" fill="#262626" font-family='"Liberation Serif", serif'>0</text>
<line x1="654.2" y1="242" x2="654.2" y2="246.5" stroke="#222" stroke-width="1.4"/>
<text x="655.7" y="256.5" font-size="8.6" text-anchor="middle" fill="#262626" font-family='"Liberation Serif", serif'>50K</text>
<line x1="689.4" y1="242" x2="689.4" y2="246.5" stroke="#222" stroke-width="1.4"/>
<text x="690.9" y="256.5" font-size="8.6" text-anchor="middle" fill="#262626" font-family='"Liberation Serif", serif'>100K</text>
<line x1="724.6" y1="242" x2="724.6" y2="246.5" stroke="#222" stroke-width="1.4"/>
<text x="726.1" y="256.5" font-size="8.6" text-anchor="middle" fill="#262626" font-family='"Liberation Serif", serif'>150K</text>
<line x1="759.8" y1="242" x2="759.8" y2="246.5" stroke="#222" stroke-width="1.4"/>
<text x="761.3" y="256.5" font-size="8.6" text-anchor="middle" fill="#262626" font-family='"Liberation Serif", serif'>200K</text>
<line x1="795" y1="242" x2="795" y2="246.5" stroke="#222" stroke-width="1.4"/>
<text x="796.5" y="256.5" font-size="8.6" text-anchor="middle" fill="#262626" font-family='"Liberation Serif", serif'>250K</text>
<line x1="626" y1="242" x2="626" y2="244.8" stroke="#555" stroke-width="0.9"/>
<line x1="633.1" y1="242" x2="633.1" y2="244.8" stroke="#555" stroke-width="0.9"/>
<line x1="640.1" y1="242" x2="640.1" y2="244.8" stroke="#555" stroke-width="0.9"/>
<line x1="647.2" y1="242" x2="647.2" y2="244.8" stroke="#555" stroke-width="0.9"/>
<line x1="661.2" y1="242" x2="661.2" y2="244.8" stroke="#555" stroke-width="0.9"/>
<line x1="668.3" y1="242" x2="668.3" y2="244.8" stroke="#555" stroke-width="0.9"/>
<line x1="675.3" y1="242" x2="675.3" y2="244.8" stroke="#555" stroke-width="0.9"/>
<line x1="682.4" y1="242" x2="682.4" y2="244.8" stroke="#555" stroke-width="0.9"/>
<line x1="696.4" y1="242" x2="696.4" y2="244.8" stroke="#555" stroke-width="0.9"/>
<line x1="703.5" y1="242" x2="703.5" y2="244.8" stroke="#555" stroke-width="0.9"/>
<line x1="710.5" y1="242" x2="710.5" y2="244.8" stroke="#555" stroke-width="0.9"/>
<line x1="717.6" y1="242" x2="717.6" y2="244.8" stroke="#555" stroke-width="0.9"/>
<line x1="731.6" y1="242" x2="731.6" y2="244.8" stroke="#555" stroke-width="0.9"/>
<line x1="738.7" y1="242" x2="738.7" y2="244.8" stroke="#555" stroke-width="0.9"/>
<line x1="745.7" y1="242" x2="745.7" y2="244.8" stroke="#555" stroke-width="0.9"/>
<line x1="752.8" y1="242" x2="752.8" y2="244.8" stroke="#555" stroke-width="0.9"/>
<line x1="766.8" y1="242" x2="766.8" y2="244.8" stroke="#555" stroke-width="0.9"/>
<line x1="773.9" y1="242" x2="773.9" y2="244.8" stroke="#555" stroke-width="0.9"/>
<line x1="780.9" y1="242" x2="780.9" y2="244.8" stroke="#555" stroke-width="0.9"/>
<line x1="788" y1="242" x2="788" y2="244.8" stroke="#555" stroke-width="0.9"/>
<line x1="802" y1="242" x2="802" y2="244.8" stroke="#555" stroke-width="0.9"/>
<line x1="613.4" y1="241" x2="618.4" y2="241" stroke="#222" stroke-width="1.4"/>
<text x="609.9" y="244.8" font-size="8.6" text-anchor="end" fill="#262626" font-family='"Liberation Serif", serif'>0</text>
<line x1="613.4" y1="205.5" x2="618.4" y2="205.5" stroke="#222" stroke-width="1.4"/>
<text x="609.9" y="209.3" font-size="8.6" text-anchor="end" fill="#262626" font-family='"Liberation Serif", serif'>50K</text>
<line x1="613.4" y1="170" x2="618.4" y2="170" stroke="#222" stroke-width="1.4"/>
<text x="609.9" y="173.8" font-size="8.6" text-anchor="end" fill="#262626" font-family='"Liberation Serif", serif'>100K</text>
<line x1="613.4" y1="134.4" x2="618.4" y2="134.4" stroke="#222" stroke-width="1.4"/>
<text x="609.9" y="138.2" font-size="8.6" text-anchor="end" fill="#262626" font-family='"Liberation Serif", serif'>150K</text>
<line x1="613.4" y1="98.9" x2="618.4" y2="98.9" stroke="#222" stroke-width="1.4"/>
<text x="609.9" y="102.7" font-size="8.6" text-anchor="end" fill="#262626" font-family='"Liberation Serif", serif'>200K</text>
<line x1="613.4" y1="63.4" x2="618.4" y2="63.4" stroke="#222" stroke-width="1.4"/>
<text x="609.9" y="67.2" font-size="8.6" text-anchor="end" fill="#262626" font-family='"Liberation Serif", serif'>250K</text>
<line x1="615.6" y1="233.9" x2="618.4" y2="233.9" stroke="#555" stroke-width="0.9"/>
<line x1="615.6" y1="226.8" x2="618.4" y2="226.8" stroke="#555" stroke-width="0.9"/>
<line x1="615.6" y1="219.7" x2="618.4" y2="219.7" stroke="#555" stroke-width="0.9"/>
<line x1="615.6" y1="212.6" x2="618.4" y2="212.6" stroke="#555" stroke-width="0.9"/>
<line x1="615.6" y1="198.4" x2="618.4" y2="198.4" stroke="#555" stroke-width="0.9"/>
<line x1="615.6" y1="191.3" x2="618.4" y2="191.3" stroke="#555" stroke-width="0.9"/>
<line x1="615.6" y1="184.2" x2="618.4" y2="184.2" stroke="#555" stroke-width="0.9"/>
<line x1="615.6" y1="177.1" x2="618.4" y2="177.1" stroke="#555" stroke-width="0.9"/>
<line x1="615.6" y1="162.9" x2="618.4" y2="162.9" stroke="#555" stroke-width="0.9"/>
<line x1="615.6" y1="155.8" x2="618.4" y2="155.8" stroke="#555" stroke-width="0.9"/>
<line x1="615.6" y1="148.6" x2="618.4" y2="148.6" stroke="#555" stroke-width="0.9"/>
<line x1="615.6" y1="141.5" x2="618.4" y2="141.5" stroke="#555" stroke-width="0.9"/>
<line x1="615.6" y1="127.3" x2="618.4" y2="127.3" stroke="#555" stroke-width="0.9"/>
<line x1="615.6" y1="120.2" x2="618.4" y2="120.2" stroke="#555" stroke-width="0.9"/>
<line x1="615.6" y1="113.1" x2="618.4" y2="113.1" stroke="#555" stroke-width="0.9"/>
<line x1="615.6" y1="106" x2="618.4" y2="106" stroke="#555" stroke-width="0.9"/>
<line x1="615.6" y1="91.8" x2="618.4" y2="91.8" stroke="#555" stroke-width="0.9"/>
<line x1="615.6" y1="84.7" x2="618.4" y2="84.7" stroke="#555" stroke-width="0.9"/>
<line x1="615.6" y1="77.6" x2="618.4" y2="77.6" stroke="#555" stroke-width="0.9"/>
<line x1="615.6" y1="70.5" x2="618.4" y2="70.5" stroke="#555" stroke-width="0.9"/>
<line x1="615.6" y1="56.3" x2="618.4" y2="56.3" stroke="#555" stroke-width="0.9"/>
<text transform="translate(578,170) rotate(-90)" font-size="32" fill="#000" font-family='"Liberation Serif", serif'>FSC-W</text>
<text x="671" y="289" font-size="32" fill="#000" font-family='"Liberation Serif", serif'>FSC-H</text>
<line x1="565.4" y1="278.7" x2="565.4" y2="179" stroke="#444" stroke-width="1.8"/>
<line x1="564.5" y1="277.7" x2="667" y2="277.7" stroke="#333" stroke-width="1.8"/>
<polygon points="565.4,174 562.4,179.6 568.4,179.6" fill="#000" stroke="none" stroke-width="1"/>
<polygon points="672,277.7 666.2,274.7 666.2,280.7" fill="#000" stroke="none" stroke-width="1"/>
<g clip-path="url(#c4)">
<g filter="url(#spk)">
<ellipse cx="945" cy="110" rx="58" ry="68" fill="#000" fill-opacity="0.12" filter="url(#b6)"/>
<ellipse cx="940" cy="185" rx="46" ry="58" fill="#000" fill-opacity="0.15" filter="url(#b5)"/>
<ellipse cx="1010" cy="105" rx="28" ry="45" fill="#000" fill-opacity="0.05" filter="url(#b6)"/>
<polygon points="935,70 960,58 990,56 995,68 985,90 975,110 962,126 946,136 930,140 918,132 922,110 928,90" fill="#000" fill-opacity="0.55" filter="url(#b3)"/>
<ellipse cx="960" cy="88" rx="22" ry="12" fill="#000" fill-opacity="0.85" filter="url(#b2.5)" transform="rotate(-55 960 88)"/>
<polygon points="952,128 968,138 976,160 975,185 968,205 960,225 958,240 948,240 940,215 930,195 928,170 934,145" fill="#000" fill-opacity="0.55" filter="url(#b3)"/>
<ellipse cx="952" cy="172" rx="18" ry="30" fill="#000" fill-opacity="0.9" filter="url(#b2.5)"/>
</g>
<g filter="url(#spkc)">
<ellipse cx="962" cy="86" rx="14" ry="8" fill="#00c8e0" fill-opacity="0.7" filter="url(#b3)" transform="rotate(-50 962 86)"/>
<ellipse cx="963" cy="84" rx="7" ry="4" fill="#30e070" fill-opacity="0.7" filter="url(#b2)" transform="rotate(-50 963 84)"/>
<ellipse cx="952" cy="172" rx="13" ry="22" fill="#00c8e0" fill-opacity="0.6" filter="url(#b3)"/>
<ellipse cx="951" cy="172" rx="7" ry="13" fill="#30e070" fill-opacity="0.75" filter="url(#b2.5)"/>
</g>
<polygon points="890,240 1000,240 1000,242 890,242" fill="#20c040" fill-opacity="0.8"/>
</g>
<polyline points="896,56 896,137.6 976,137.6 977.6,100 982,86 991,56" fill="none" stroke="#222" stroke-width="1.3" stroke-linejoin="round"/>
<text x="974" y="164.5" font-size="13" fill="#222" font-family='"Liberation Serif", serif'>CD90.2+CD48neg</text>
<line x1="889.6" y1="54.6" x2="1077" y2="54.6" stroke="#222" stroke-width="1.8"/>
<line x1="1077" y1="54.6" x2="1077" y2="241.6" stroke="#888" stroke-width="1.0"/>
<line x1="889.6" y1="54.6" x2="889.6" y2="241.6" stroke="#777" stroke-width="1.3"/>
<line x1="889.6" y1="241.6" x2="1077" y2="241.6" stroke="#111" stroke-width="1.4"/>
<line x1="890" y1="241.6" x2="890" y2="246.1" stroke="#222" stroke-width="1.4"/>
<text x="894" y="259.8" font-size="8.6" fill="#262626" font-family='"Liberation Serif", serif'>10<tspan dy="-5.5" font-size="7.6">0</tspan></text>
<line x1="900.3" y1="241.6" x2="900.3" y2="244.1" stroke="#555" stroke-width="0.9"/>
<line x1="906.3" y1="241.6" x2="906.3" y2="244.1" stroke="#555" stroke-width="0.9"/>
<line x1="910.6" y1="241.6" x2="910.6" y2="244.1" stroke="#555" stroke-width="0.9"/>
<line x1="913.9" y1="241.6" x2="913.9" y2="244.6" stroke="#555" stroke-width="0.9"/>
<line x1="916.6" y1="241.6" x2="916.6" y2="244.1" stroke="#555" stroke-width="0.9"/>
<line x1="918.9" y1="241.6" x2="918.9" y2="244.1" stroke="#555" stroke-width="0.9"/>
<line x1="920.9" y1="241.6" x2="920.9" y2="244.1" stroke="#555" stroke-width="0.9"/>
<line x1="922.6" y1="241.6" x2="922.6" y2="244.1" stroke="#555" stroke-width="0.9"/>
<line x1="924.2" y1="241.6" x2="924.2" y2="246.1" stroke="#222" stroke-width="1.4"/>
<text x="928.2" y="259.8" font-size="8.6" fill="#262626" font-family='"Liberation Serif", serif'>10<tspan dy="-5.5" font-size="7.6">1</tspan></text>
<line x1="934.5" y1="241.6" x2="934.5" y2="244.1" stroke="#555" stroke-width="0.9"/>
<line x1="940.5" y1="241.6" x2="940.5" y2="244.1" stroke="#555" stroke-width="0.9"/>
<line x1="944.8" y1="241.6" x2="944.8" y2="244.1" stroke="#555" stroke-width="0.9"/>
<line x1="948.1" y1="241.6" x2="948.1" y2="244.6" stroke="#555" stroke-width="0.9"/>
<line x1="950.8" y1="241.6" x2="950.8" y2="244.1" stroke="#555" stroke-width="0.9"/>
<line x1="953.1" y1="241.6" x2="953.1" y2="244.1" stroke="#555" stroke-width="0.9"/>
<line x1="955.1" y1="241.6" x2="955.1" y2="244.1" stroke="#555" stroke-width="0.9"/>
<line x1="956.8" y1="241.6" x2="956.8" y2="244.1" stroke="#555" stroke-width="0.9"/>
<line x1="958.4" y1="241.6" x2="958.4" y2="246.1" stroke="#222" stroke-width="1.4"/>
<text x="962.4" y="259.8" font-size="8.6" fill="#262626" font-family='"Liberation Serif", serif'>10<tspan dy="-5.5" font-size="7.6">2</tspan></text>
<line x1="968.7" y1="241.6" x2="968.7" y2="244.1" stroke="#555" stroke-width="0.9"/>
<line x1="974.7" y1="241.6" x2="974.7" y2="244.1" stroke="#555" stroke-width="0.9"/>
<line x1="979" y1="241.6" x2="979" y2="244.1" stroke="#555" stroke-width="0.9"/>
<line x1="982.3" y1="241.6" x2="982.3" y2="244.6" stroke="#555" stroke-width="0.9"/>
<line x1="985" y1="241.6" x2="985" y2="244.1" stroke="#555" stroke-width="0.9"/>
<line x1="987.3" y1="241.6" x2="987.3" y2="244.1" stroke="#555" stroke-width="0.9"/>
<line x1="989.3" y1="241.6" x2="989.3" y2="244.1" stroke="#555" stroke-width="0.9"/>
<line x1="991" y1="241.6" x2="991" y2="244.1" stroke="#555" stroke-width="0.9"/>
<line x1="992.6" y1="241.6" x2="992.6" y2="246.1" stroke="#222" stroke-width="1.4"/>
<text x="996.6" y="259.8" font-size="8.6" fill="#262626" font-family='"Liberation Serif", serif'>10<tspan dy="-5.5" font-size="7.6">3</tspan></text>
<line x1="1002.9" y1="241.6" x2="1002.9" y2="244.1" stroke="#555" stroke-width="0.9"/>
<line x1="1008.9" y1="241.6" x2="1008.9" y2="244.1" stroke="#555" stroke-width="0.9"/>
<line x1="1013.2" y1="241.6" x2="1013.2" y2="244.1" stroke="#555" stroke-width="0.9"/>
<line x1="1016.5" y1="241.6" x2="1016.5" y2="244.6" stroke="#555" stroke-width="0.9"/>
<line x1="1019.2" y1="241.6" x2="1019.2" y2="244.1" stroke="#555" stroke-width="0.9"/>
<line x1="1021.5" y1="241.6" x2="1021.5" y2="244.1" stroke="#555" stroke-width="0.9"/>
<line x1="1023.5" y1="241.6" x2="1023.5" y2="244.1" stroke="#555" stroke-width="0.9"/>
<line x1="1025.2" y1="241.6" x2="1025.2" y2="244.1" stroke="#555" stroke-width="0.9"/>
<line x1="1026.8" y1="241.6" x2="1026.8" y2="246.1" stroke="#222" stroke-width="1.4"/>
<text x="1030.8" y="259.8" font-size="8.6" fill="#262626" font-family='"Liberation Serif", serif'>10<tspan dy="-5.5" font-size="7.6">4</tspan></text>
<line x1="1037.1" y1="241.6" x2="1037.1" y2="244.1" stroke="#555" stroke-width="0.9"/>
<line x1="1043.1" y1="241.6" x2="1043.1" y2="244.1" stroke="#555" stroke-width="0.9"/>
<line x1="1047.4" y1="241.6" x2="1047.4" y2="244.1" stroke="#555" stroke-width="0.9"/>
<line x1="1050.7" y1="241.6" x2="1050.7" y2="244.6" stroke="#555" stroke-width="0.9"/>
<line x1="1053.4" y1="241.6" x2="1053.4" y2="244.1" stroke="#555" stroke-width="0.9"/>
<line x1="1055.7" y1="241.6" x2="1055.7" y2="244.1" stroke="#555" stroke-width="0.9"/>
<line x1="1057.7" y1="241.6" x2="1057.7" y2="244.1" stroke="#555" stroke-width="0.9"/>
<line x1="1059.4" y1="241.6" x2="1059.4" y2="244.1" stroke="#555" stroke-width="0.9"/>
<line x1="1061" y1="241.6" x2="1061" y2="246.1" stroke="#222" stroke-width="1.4"/>
<text x="1065" y="259.8" font-size="8.6" fill="#262626" font-family='"Liberation Serif", serif'>10<tspan dy="-5.5" font-size="7.6">5</tspan></text>
<line x1="1071.3" y1="241.6" x2="1071.3" y2="244.1" stroke="#555" stroke-width="0.9"/>
<line x1="884.6" y1="241" x2="889.6" y2="241" stroke="#222" stroke-width="1.4"/>
<text x="868.6" y="241.8" font-size="8.6" fill="#262626" font-family='"Liberation Serif", serif'>10<tspan dy="-5.5" font-size="7.6">0</tspan></text>
<line x1="887.1" y1="230.6" x2="889.6" y2="230.6" stroke="#555" stroke-width="0.9"/>
<line x1="887.1" y1="224.6" x2="889.6" y2="224.6" stroke="#555" stroke-width="0.9"/>
<line x1="887.1" y1="220.3" x2="889.6" y2="220.3" stroke="#555" stroke-width="0.9"/>
<line x1="886.6" y1="217" x2="889.6" y2="217" stroke="#555" stroke-width="0.9"/>
<line x1="887.1" y1="214.2" x2="889.6" y2="214.2" stroke="#555" stroke-width="0.9"/>
<line x1="887.1" y1="211.9" x2="889.6" y2="211.9" stroke="#555" stroke-width="0.9"/>
<line x1="887.1" y1="209.9" x2="889.6" y2="209.9" stroke="#555" stroke-width="0.9"/>
<line x1="887.1" y1="208.2" x2="889.6" y2="208.2" stroke="#555" stroke-width="0.9"/>
<line x1="884.6" y1="206.6" x2="889.6" y2="206.6" stroke="#222" stroke-width="1.4"/>
<text x="868.6" y="212.2" font-size="8.6" fill="#262626" font-family='"Liberation Serif", serif'>10<tspan dy="-5.5" font-size="7.6">1</tspan></text>
<line x1="887.1" y1="196.2" x2="889.6" y2="196.2" stroke="#555" stroke-width="0.9"/>
<line x1="887.1" y1="190.2" x2="889.6" y2="190.2" stroke="#555" stroke-width="0.9"/>
<line x1="887.1" y1="185.9" x2="889.6" y2="185.9" stroke="#555" stroke-width="0.9"/>
<line x1="886.6" y1="182.6" x2="889.6" y2="182.6" stroke="#555" stroke-width="0.9"/>
<line x1="887.1" y1="179.8" x2="889.6" y2="179.8" stroke="#555" stroke-width="0.9"/>
<line x1="887.1" y1="177.5" x2="889.6" y2="177.5" stroke="#555" stroke-width="0.9"/>
<line x1="887.1" y1="175.5" x2="889.6" y2="175.5" stroke="#555" stroke-width="0.9"/>
<line x1="887.1" y1="173.8" x2="889.6" y2="173.8" stroke="#555" stroke-width="0.9"/>
<line x1="884.6" y1="172.2" x2="889.6" y2="172.2" stroke="#222" stroke-width="1.4"/>
<text x="868.6" y="177.8" font-size="8.6" fill="#262626" font-family='"Liberation Serif", serif'>10<tspan dy="-5.5" font-size="7.6">2</tspan></text>
<line x1="887.1" y1="161.8" x2="889.6" y2="161.8" stroke="#555" stroke-width="0.9"/>
<line x1="887.1" y1="155.8" x2="889.6" y2="155.8" stroke="#555" stroke-width="0.9"/>
<line x1="887.1" y1="151.5" x2="889.6" y2="151.5" stroke="#555" stroke-width="0.9"/>
<line x1="886.6" y1="148.2" x2="889.6" y2="148.2" stroke="#555" stroke-width="0.9"/>
<line x1="887.1" y1="145.4" x2="889.6" y2="145.4" stroke="#555" stroke-width="0.9"/>
<line x1="887.1" y1="143.1" x2="889.6" y2="143.1" stroke="#555" stroke-width="0.9"/>
<line x1="887.1" y1="141.1" x2="889.6" y2="141.1" stroke="#555" stroke-width="0.9"/>
<line x1="887.1" y1="139.4" x2="889.6" y2="139.4" stroke="#555" stroke-width="0.9"/>
<line x1="884.6" y1="137.8" x2="889.6" y2="137.8" stroke="#222" stroke-width="1.4"/>
<text x="868.6" y="143.4" font-size="8.6" fill="#262626" font-family='"Liberation Serif", serif'>10<tspan dy="-5.5" font-size="7.6">3</tspan></text>
<line x1="887.1" y1="127.4" x2="889.6" y2="127.4" stroke="#555" stroke-width="0.9"/>
<line x1="887.1" y1="121.4" x2="889.6" y2="121.4" stroke="#555" stroke-width="0.9"/>
<line x1="887.1" y1="117.1" x2="889.6" y2="117.1" stroke="#555" stroke-width="0.9"/>
<line x1="886.6" y1="113.8" x2="889.6" y2="113.8" stroke="#555" stroke-width="0.9"/>
<line x1="887.1" y1="111" x2="889.6" y2="111" stroke="#555" stroke-width="0.9"/>
<line x1="887.1" y1="108.7" x2="889.6" y2="108.7" stroke="#555" stroke-width="0.9"/>
<line x1="887.1" y1="106.7" x2="889.6" y2="106.7" stroke="#555" stroke-width="0.9"/>
<line x1="887.1" y1="105" x2="889.6" y2="105" stroke="#555" stroke-width="0.9"/>
<line x1="884.6" y1="103.4" x2="889.6" y2="103.4" stroke="#222" stroke-width="1.4"/>
<text x="868.6" y="109" font-size="8.6" fill="#262626" font-family='"Liberation Serif", serif'>10<tspan dy="-5.5" font-size="7.6">4</tspan></text>
<line x1="887.1" y1="93" x2="889.6" y2="93" stroke="#555" stroke-width="0.9"/>
<line x1="887.1" y1="87" x2="889.6" y2="87" stroke="#555" stroke-width="0.9"/>
<line x1="887.1" y1="82.7" x2="889.6" y2="82.7" stroke="#555" stroke-width="0.9"/>
<line x1="886.6" y1="79.4" x2="889.6" y2="79.4" stroke="#555" stroke-width="0.9"/>
<line x1="887.1" y1="76.6" x2="889.6" y2="76.6" stroke="#555" stroke-width="0.9"/>
<line x1="887.1" y1="74.3" x2="889.6" y2="74.3" stroke="#555" stroke-width="0.9"/>
<line x1="887.1" y1="72.3" x2="889.6" y2="72.3" stroke="#555" stroke-width="0.9"/>
<line x1="887.1" y1="70.6" x2="889.6" y2="70.6" stroke="#555" stroke-width="0.9"/>
<line x1="884.6" y1="69" x2="889.6" y2="69" stroke="#222" stroke-width="1.4"/>
<text x="868.6" y="74.6" font-size="8.6" fill="#262626" font-family='"Liberation Serif", serif'>10<tspan dy="-5.5" font-size="7.6">5</tspan></text>
<line x1="887.1" y1="58.6" x2="889.6" y2="58.6" stroke="#555" stroke-width="0.9"/>
<text transform="translate(856,169) rotate(-90)" font-size="32" fill="#000" font-family='"Liberation Serif", serif'>CD90.2</text>
<text x="951" y="289" font-size="32" fill="#000" font-family='"Liberation Serif", serif'>CD48</text>
<line x1="844" y1="278.7" x2="844" y2="179" stroke="#444" stroke-width="1.8"/>
<line x1="843.1" y1="277.7" x2="944" y2="277.7" stroke="#333" stroke-width="1.8"/>
<polygon points="844,174 841,179.6 847,179.6" fill="#000" stroke="none" stroke-width="1"/>
<polygon points="949,277.7 943.2,274.7 943.2,280.7" fill="#000" stroke="none" stroke-width="1"/>
<g clip-path="url(#c5)">
<g filter="url(#spk)">
<polygon points="1156,186 1170,180 1192,172 1208,164 1220,160 1234,172 1234,190 1220,200 1210,216 1204,230 1192,238 1156,240" fill="#000" fill-opacity="0.42" filter="url(#b3)"/>
<polygon points="1160,205 1178,188 1198,176 1212,166 1220,168 1219,186 1208,200 1196,215 1180,226 1165,228" fill="#000" fill-opacity="0.8" filter="url(#b2.5)"/>
<polygon points="1156,236 1205,236 1205,240 1156,240" fill="#000" fill-opacity="0.8"/>
</g>
<g filter="url(#s1)">
<ellipse cx="1190" cy="198" rx="32" ry="15" fill="#00d8ff" fill-opacity="0.6" filter="url(#b3)" transform="rotate(-40 1190 198)"/>
</g>
<g filter="url(#s2)">
<ellipse cx="1192" cy="195" rx="24" ry="9" fill="#40ff40" fill-opacity="0.62" filter="url(#b2.5)" transform="rotate(-40 1192 195)"/>
</g>
<g filter="url(#s3)">
<ellipse cx="1194" cy="192" rx="16" ry="5.5" fill="#ffd000" fill-opacity="0.5" filter="url(#b2.5)" transform="rotate(-40 1194 192)"/>
</g>
<g filter="url(#spkc)">
<ellipse cx="1192" cy="194" rx="12" ry="4" fill="#ff3a00" fill-opacity="0.32" filter="url(#b2)" transform="rotate(-40 1192 194)"/>
</g>
<polygon points="1165,238 1200,238 1200,240 1165,240" fill="#ffd000" fill-opacity="0.5"/>
<rect x="1159" y="214" width="16" height="17" fill="#e0e4ff" opacity="0.9"/>
</g>
<line x1="1215.4" y1="53.4" x2="1215.4" y2="240" stroke="#111" stroke-width="1.6"/>
<line x1="1156" y1="166.6" x2="1342.6" y2="166.6" stroke="#111" stroke-width="1.6"/>
<text x="1160" y="72" font-size="11.5" fill="#222" font-family='"Liberation Serif", serif'>Q1</text>
<text x="1331" y="72" font-size="11.5" text-anchor="end" fill="#222" font-family='"Liberation Serif", serif'>Q2</text>
<text x="1160" y="229" font-size="11.5" fill="#222" font-family='"Liberation Serif", serif'>Q4</text>
<text x="1331" y="229" font-size="11.5" text-anchor="end" fill="#222" font-family='"Liberation Serif", serif'>Q3</text>
<line x1="1156" y1="53.4" x2="1342.6" y2="53.4" stroke="#222" stroke-width="1.8"/>
<line x1="1342.6" y1="53.4" x2="1342.6" y2="240" stroke="#888" stroke-width="1.0"/>
<line x1="1156" y1="53.4" x2="1156" y2="240" stroke="#777" stroke-width="1.3"/>
<line x1="1156" y1="240" x2="1342.6" y2="240" stroke="#111" stroke-width="1.4"/>
<line x1="1156" y1="240" x2="1156" y2="244.5" stroke="#222" stroke-width="1.4"/>
<text x="1160" y="258.2" font-size="8.6" fill="#262626" font-family='"Liberation Serif", serif'>10<tspan dy="-5.5" font-size="7.6">1</tspan></text>
<line x1="1168.6" y1="240" x2="1168.6" y2="242.5" stroke="#555" stroke-width="0.9"/>
<line x1="1176" y1="240" x2="1176" y2="242.5" stroke="#555" stroke-width="0.9"/>
<line x1="1181.3" y1="240" x2="1181.3" y2="242.5" stroke="#555" stroke-width="0.9"/>
<line x1="1185.4" y1="240" x2="1185.4" y2="243" stroke="#555" stroke-width="0.9"/>
<line x1="1188.7" y1="240" x2="1188.7" y2="242.5" stroke="#555" stroke-width="0.9"/>
<line x1="1191.5" y1="240" x2="1191.5" y2="242.5" stroke="#555" stroke-width="0.9"/>
<line x1="1193.9" y1="240" x2="1193.9" y2="242.5" stroke="#555" stroke-width="0.9"/>
<line x1="1196.1" y1="240" x2="1196.1" y2="242.5" stroke="#555" stroke-width="0.9"/>
<line x1="1198" y1="240" x2="1198" y2="244.5" stroke="#222" stroke-width="1.4"/>
<text x="1202" y="258.2" font-size="8.6" fill="#262626" font-family='"Liberation Serif", serif'>10<tspan dy="-5.5" font-size="7.6">2</tspan></text>
<line x1="1210.6" y1="240" x2="1210.6" y2="242.5" stroke="#555" stroke-width="0.9"/>
<line x1="1218" y1="240" x2="1218" y2="242.5" stroke="#555" stroke-width="0.9"/>
<line x1="1223.3" y1="240" x2="1223.3" y2="242.5" stroke="#555" stroke-width="0.9"/>
<line x1="1227.4" y1="240" x2="1227.4" y2="243" stroke="#555" stroke-width="0.9"/>
<line x1="1230.7" y1="240" x2="1230.7" y2="242.5" stroke="#555" stroke-width="0.9"/>
<line x1="1233.5" y1="240" x2="1233.5" y2="242.5" stroke="#555" stroke-width="0.9"/>
<line x1="1235.9" y1="240" x2="1235.9" y2="242.5" stroke="#555" stroke-width="0.9"/>
<line x1="1238.1" y1="240" x2="1238.1" y2="242.5" stroke="#555" stroke-width="0.9"/>
<line x1="1240" y1="240" x2="1240" y2="244.5" stroke="#222" stroke-width="1.4"/>
<text x="1244" y="258.2" font-size="8.6" fill="#262626" font-family='"Liberation Serif", serif'>10<tspan dy="-5.5" font-size="7.6">3</tspan></text>
<line x1="1252.6" y1="240" x2="1252.6" y2="242.5" stroke="#555" stroke-width="0.9"/>
<line x1="1260" y1="240" x2="1260" y2="242.5" stroke="#555" stroke-width="0.9"/>
<line x1="1265.3" y1="240" x2="1265.3" y2="242.5" stroke="#555" stroke-width="0.9"/>
<line x1="1269.4" y1="240" x2="1269.4" y2="243" stroke="#555" stroke-width="0.9"/>
<line x1="1272.7" y1="240" x2="1272.7" y2="242.5" stroke="#555" stroke-width="0.9"/>
<line x1="1275.5" y1="240" x2="1275.5" y2="242.5" stroke="#555" stroke-width="0.9"/>
<line x1="1277.9" y1="240" x2="1277.9" y2="242.5" stroke="#555" stroke-width="0.9"/>
<line x1="1280.1" y1="240" x2="1280.1" y2="242.5" stroke="#555" stroke-width="0.9"/>
<line x1="1282" y1="240" x2="1282" y2="244.5" stroke="#222" stroke-width="1.4"/>
<text x="1286" y="258.2" font-size="8.6" fill="#262626" font-family='"Liberation Serif", serif'>10<tspan dy="-5.5" font-size="7.6">4</tspan></text>
<line x1="1294.6" y1="240" x2="1294.6" y2="242.5" stroke="#555" stroke-width="0.9"/>
<line x1="1302" y1="240" x2="1302" y2="242.5" stroke="#555" stroke-width="0.9"/>
<line x1="1307.3" y1="240" x2="1307.3" y2="242.5" stroke="#555" stroke-width="0.9"/>
<line x1="1311.4" y1="240" x2="1311.4" y2="243" stroke="#555" stroke-width="0.9"/>
<line x1="1314.7" y1="240" x2="1314.7" y2="242.5" stroke="#555" stroke-width="0.9"/>
<line x1="1317.5" y1="240" x2="1317.5" y2="242.5" stroke="#555" stroke-width="0.9"/>
<line x1="1319.9" y1="240" x2="1319.9" y2="242.5" stroke="#555" stroke-width="0.9"/>
<line x1="1322.1" y1="240" x2="1322.1" y2="242.5" stroke="#555" stroke-width="0.9"/>
<line x1="1324" y1="240" x2="1324" y2="244.5" stroke="#222" stroke-width="1.4"/>
<text x="1328" y="258.2" font-size="8.6" fill="#262626" font-family='"Liberation Serif", serif'>10<tspan dy="-5.5" font-size="7.6">5</tspan></text>
<line x1="1336.6" y1="240" x2="1336.6" y2="242.5" stroke="#555" stroke-width="0.9"/>
<line x1="1151" y1="239.4" x2="1156" y2="239.4" stroke="#222" stroke-width="1.4"/>
<text x="1135" y="245" font-size="8.6" fill="#262626" font-family='"Liberation Serif", serif'>10<tspan dy="-5.5" font-size="7.6">1</tspan></text>
<line x1="1153.5" y1="226.7" x2="1156" y2="226.7" stroke="#555" stroke-width="0.9"/>
<line x1="1153.5" y1="219.2" x2="1156" y2="219.2" stroke="#555" stroke-width="0.9"/>
<line x1="1153.5" y1="213.9" x2="1156" y2="213.9" stroke="#555" stroke-width="0.9"/>
<line x1="1153" y1="209.8" x2="1156" y2="209.8" stroke="#555" stroke-width="0.9"/>
<line x1="1153.5" y1="206.4" x2="1156" y2="206.4" stroke="#555" stroke-width="0.9"/>
<line x1="1153.5" y1="203.6" x2="1156" y2="203.6" stroke="#555" stroke-width="0.9"/>
<line x1="1153.5" y1="201.2" x2="1156" y2="201.2" stroke="#555" stroke-width="0.9"/>
<line x1="1153.5" y1="199" x2="1156" y2="199" stroke="#555" stroke-width="0.9"/>
<line x1="1151" y1="197.1" x2="1156" y2="197.1" stroke="#222" stroke-width="1.4"/>
<text x="1135" y="202.7" font-size="8.6" fill="#262626" font-family='"Liberation Serif", serif'>10<tspan dy="-5.5" font-size="7.6">2</tspan></text>
<line x1="1153.5" y1="184.3" x2="1156" y2="184.3" stroke="#555" stroke-width="0.9"/>
<line x1="1153.5" y1="176.8" x2="1156" y2="176.8" stroke="#555" stroke-width="0.9"/>
<line x1="1153.5" y1="171.6" x2="1156" y2="171.6" stroke="#555" stroke-width="0.9"/>
<line x1="1153" y1="167.4" x2="1156" y2="167.4" stroke="#555" stroke-width="0.9"/>
<line x1="1153.5" y1="164.1" x2="1156" y2="164.1" stroke="#555" stroke-width="0.9"/>
<line x1="1153.5" y1="161.3" x2="1156" y2="161.3" stroke="#555" stroke-width="0.9"/>
<line x1="1153.5" y1="158.8" x2="1156" y2="158.8" stroke="#555" stroke-width="0.9"/>
<line x1="1153.5" y1="156.6" x2="1156" y2="156.6" stroke="#555" stroke-width="0.9"/>
<line x1="1151" y1="154.7" x2="1156" y2="154.7" stroke="#222" stroke-width="1.4"/>
<text x="1135" y="160.3" font-size="8.6" fill="#262626" font-family='"Liberation Serif", serif'>10<tspan dy="-5.5" font-size="7.6">3</tspan></text>
<line x1="1153.5" y1="142" x2="1156" y2="142" stroke="#555" stroke-width="0.9"/>
<line x1="1153.5" y1="134.5" x2="1156" y2="134.5" stroke="#555" stroke-width="0.9"/>
<line x1="1153.5" y1="129.2" x2="1156" y2="129.2" stroke="#555" stroke-width="0.9"/>
<line x1="1153" y1="125.1" x2="1156" y2="125.1" stroke="#555" stroke-width="0.9"/>
<line x1="1153.5" y1="121.7" x2="1156" y2="121.7" stroke="#555" stroke-width="0.9"/>
<line x1="1153.5" y1="118.9" x2="1156" y2="118.9" stroke="#555" stroke-width="0.9"/>
<line x1="1153.5" y1="116.5" x2="1156" y2="116.5" stroke="#555" stroke-width="0.9"/>
<line x1="1153.5" y1="114.3" x2="1156" y2="114.3" stroke="#555" stroke-width="0.9"/>
<line x1="1151" y1="112.3" x2="1156" y2="112.3" stroke="#222" stroke-width="1.4"/>
<text x="1135" y="117.9" font-size="8.6" fill="#262626" font-family='"Liberation Serif", serif'>10<tspan dy="-5.5" font-size="7.6">4</tspan></text>
<line x1="1153.5" y1="99.6" x2="1156" y2="99.6" stroke="#555" stroke-width="0.9"/>
<line x1="1153.5" y1="92.1" x2="1156" y2="92.1" stroke="#555" stroke-width="0.9"/>
<line x1="1153.5" y1="86.9" x2="1156" y2="86.9" stroke="#555" stroke-width="0.9"/>
<line x1="1153" y1="82.7" x2="1156" y2="82.7" stroke="#555" stroke-width="0.9"/>
<line x1="1153.5" y1="79.4" x2="1156" y2="79.4" stroke="#555" stroke-width="0.9"/>
<line x1="1153.5" y1="76.6" x2="1156" y2="76.6" stroke="#555" stroke-width="0.9"/>
<line x1="1153.5" y1="74.1" x2="1156" y2="74.1" stroke="#555" stroke-width="0.9"/>
<line x1="1153.5" y1="71.9" x2="1156" y2="71.9" stroke="#555" stroke-width="0.9"/>
<line x1="1151" y1="70" x2="1156" y2="70" stroke="#222" stroke-width="1.4"/>
<text x="1135" y="75.6" font-size="8.6" fill="#262626" font-family='"Liberation Serif", serif'>10<tspan dy="-5.5" font-size="7.6">5</tspan></text>
<line x1="1153.5" y1="57.3" x2="1156" y2="57.3" stroke="#555" stroke-width="0.9"/>
<text transform="translate(1125,169) rotate(-90)" font-size="32" fill="#000" font-family='"Liberation Serif", serif'>CD57</text>
<text x="1222" y="289" font-size="32" fill="#000" font-family='"Liberation Serif", serif'>CD15</text>
<line x1="1114" y1="278.7" x2="1114" y2="179" stroke="#444" stroke-width="1.8"/>
<line x1="1113.1" y1="277.7" x2="1214" y2="277.7" stroke="#333" stroke-width="1.8"/>
<polygon points="1114,174 1111,179.6 1117,179.6" fill="#000" stroke="none" stroke-width="1"/>
<polygon points="1219,277.7 1213.2,274.7 1213.2,280.7" fill="#000" stroke="none" stroke-width="1"/>
<g clip-path="url(#c6)">
<g filter="url(#spk)">
<polygon points="56,581 57,555 59,525 62,500 66,470 72,455 80,470 86,500 88,530 84,560 76,575 62,581" fill="#000" fill-opacity="0.36" filter="url(#b2.5)"/>
<polygon points="56,581 58,550 63,520 72,505 80,515 80,545 72,570 60,581" fill="#000" fill-opacity="0.5" filter="url(#b2)"/>
</g>
<path d="M66.9 530.6h1.2v1.2h-1.2zM67.3 489.2h1.2v1.2h-1.2zM58.8 494.3h1.2v1.2h-1.2zM83.3 526.2h1.2v1.2h-1.2zM82.4 517.4h1.2v1.2h-1.2zM74.7 514.3h1.2v1.2h-1.2zM76.1 529.9h1.2v1.2h-1.2zM59.3 481.6h1.2v1.2h-1.2zM73.7 502.7h1.2v1.2h-1.2zM76.3 472.9h1.2v1.2h-1.2zM73.7 524.7h1.2v1.2h-1.2zM76.7 564.9h1.2v1.2h-1.2zM62.6 468.0h1.2v1.2h-1.2zM65.9 499.7h1.2v1.2h-1.2zM77.6 517.4h1.2v1.2h-1.2zM64.6 457.2h1.2v1.2h-1.2zM63.8 566.0h1.2v1.2h-1.2zM60.3 517.2h1.2v1.2h-1.2zM75.1 430.5h1.2v1.2h-1.2zM70.6 570.3h1.2v1.2h-1.2zM68.7 464.1h1.2v1.2h-1.2zM76.0 501.9h1.2v1.2h-1.2zM78.0 552.3h1.2v1.2h-1.2zM87.3 523.1h1.2v1.2h-1.2zM71.4 440.0h1.2v1.2h-1.2zM77.4 474.4h1.2v1.2h-1.2zM64.6 441.8h1.2v1.2h-1.2zM58.4 478.4h1.2v1.2h-1.2zM85.5 403.4h1.2v1.2h-1.2zM87.3 533.9h1.2v1.2h-1.2zM74.3 468.2h1.2v1.2h-1.2zM56.6 553.9h1.2v1.2h-1.2zM83.2 512.9h1.2v1.2h-1.2zM72.9 526.7h1.2v1.2h-1.2zM89.1 536.0h1.2v1.2h-1.2zM76.2 532.4h1.2v1.2h-1.2zM81.5 531.5h1.2v1.2h-1.2zM80.1 414.4h1.2v1.2h-1.2zM67.8 556.0h1.2v1.2h-1.2zM76.6 497.5h1.2v1.2h-1.2zM73.9 537.5h1.2v1.2h-1.2zM71.4 562.3h1.2v1.2h-1.2zM62.1 484.3h1.2v1.2h-1.2zM82.5 506.3h1.2v1.2h-1.2zM59.4 552.3h1.2v1.2h-1.2zM87.6 482.8h1.2v1.2h-1.2zM68.2 490.1h1.2v1.2h-1.2zM86.9 453.7h1.2v1.2h-1.2zM85.1 441.6h1.2v1.2h-1.2zM60.6 536.6h1.2v1.2h-1.2zM83.5 548.0h1.2v1.2h-1.2zM74.1 512.1h1.2v1.2h-1.2zM71.8 533.8h1.2v1.2h-1.2zM67.9 518.9h1.2v1.2h-1.2zM76.9 505.0h1.2v1.2h-1.2zM79.2 533.3h1.2v1.2h-1.2zM94.1 521.2h1.2v1.2h-1.2zM64.9 486.4h1.2v1.2h-1.2zM69.8 551.2h1.2v1.2h-1.2zM66.0 524.3h1.2v1.2h-1.2zM92.0 376.8h1.2v1.2h-1.2zM56.5 517.2h1.2v1.2h-1.2zM74.8 516.9h1.2v1.2h-1.2zM64.8 537.8h1.2v1.2h-1.2zM73.4 478.9h1.2v1.2h-1.2zM99.2 522.8h1.2v1.2h-1.2zM63.3 500.0h1.2v1.2h-1.2zM67.3 501.9h1.2v1.2h-1.2zM82.1 446.6h1.2v1.2h-1.2zM69.2 552.7h1.2v1.2h-1.2zM80.3 579.6h1.2v1.2h-1.2zM65.9 536.2h1.2v1.2h-1.2zM83.1 370.9h1.2v1.2h-1.2zM83.1 432.6h1.2v1.2h-1.2zM78.2 430.4h1.2v1.2h-1.2zM72.1 564.7h1.2v1.2h-1.2zM68.2 514.6h1.2v1.2h-1.2zM79.6 512.1h1.2v1.2h-1.2zM82.6 490.3h1.2v1.2h-1.2zM102.9 447.7h1.2v1.2h-1.2zM81.0 491.7h1.2v1.2h-1.2zM71.6 540.3h1.2v1.2h-1.2zM72.7 536.9h1.2v1.2h-1.2zM77.4 456.8h1.2v1.2h-1.2zM57.7 431.5h1.2v1.2h-1.2zM85.2 542.3h1.2v1.2h-1.2zM87.7 458.1h1.2v1.2h-1.2zM70.0 448.0h1.2v1.2h-1.2zM81.9 496.1h1.2v1.2h-1.2zM68.8 474.9h1.2v1.2h-1.2zM74.8 525.5h1.2v1.2h-1.2zM88.0 454.0h1.2v1.2h-1.2zM83.6 579.4h1.2v1.2h-1.2zM87.4 496.0h1.2v1.2h-1.2zM61.1 555.9h1.2v1.2h-1.2zM71.4 511.2h1.2v1.2h-1.2zM87.1 491.8h1.2v1.2h-1.2zM73.8 474.4h1.2v1.2h-1.2zM69.9 546.6h1.2v1.2h-1.2zM70.9 571.3h1.2v1.2h-1.2zM69.3 557.0h1.2v1.2h-1.2zM61.9 549.0h1.2v1.2h-1.2zM55.2 504.4h1.2v1.2h-1.2zM67.7 503.6h1.2v1.2h-1.2zM62.9 516.7h1.2v1.2h-1.2zM91.5 507.2h1.2v1.2h-1.2zM76.4 555.0h1.2v1.2h-1.2zM67.6 442.0h1.2v1.2h-1.2zM63.3 558.7h1.2v1.2h-1.2zM82.1 544.6h1.2v1.2h-1.2zM70.1 545.3h1.2v1.2h-1.2zM72.0 446.1h1.2v1.2h-1.2zM81.1 476.7h1.2v1.2h-1.2zM59.2 466.5h1.2v1.2h-1.2zM55.8 523.2h1.2v1.2h-1.2zM62.3 407.9h1.2v1.2h-1.2zM78.7 491.2h1.2v1.2h-1.2zM73.5 482.1h1.2v1.2h-1.2zM79.4 542.4h1.2v1.2h-1.2zM78.0 521.3h1.2v1.2h-1.2zM86.0 538.0h1.2v1.2h-1.2zM75.4 400.8h1.2v1.2h-1.2zM80.8 570.5h1.2v1.2h-1.2zM66.4 481.5h1.2v1.2h-1.2zM93.3 417.1h1.2v1.2h-1.2zM58.9 539.5h1.2v1.2h-1.2zM92.6 499.0h1.2v1.2h-1.2zM76.7 550.1h1.2v1.2h-1.2zM59.1 500.5h1.2v1.2h-1.2zM73.5 546.3h1.2v1.2h-1.2zM69.6 495.2h1.2v1.2h-1.2zM57.8 487.1h1.2v1.2h-1.2zM80.7 510.1h1.2v1.2h-1.2zM59.8 462.9h1.2v1.2h-1.2zM102.0 562.0h1.2v1.2h-1.2zM77.6 375.4h1.2v1.2h-1.2zM77.5 529.0h1.2v1.2h-1.2zM90.2 526.4h1.2v1.2h-1.2zM69.2 531.1h1.2v1.2h-1.2zM73.9 469.9h1.2v1.2h-1.2zM73.5 514.2h1.2v1.2h-1.2zM65.2 456.3h1.2v1.2h-1.2zM95.4 556.9h1.2v1.2h-1.2zM55.7 437.7h1.2v1.2h-1.2zM90.4 554.5h1.2v1.2h-1.2zM91.9 545.5h1.2v1.2h-1.2zM59.5 518.0h1.2v1.2h-1.2zM69.3 531.1h1.2v1.2h-1.2zM61.3 498.8h1.2v1.2h-1.2zM75.5 523.8h1.2v1.2h-1.2zM77.7 515.4h1.2v1.2h-1.2zM66.1 544.5h1.2v1.2h-1.2zM70.6 463.7h1.2v1.2h-1.2zM62.5 505.0h1.2v1.2h-1.2zM68.7 512.8h1.2v1.2h-1.2zM70.0 513.8h1.2v1.2h-1.2zM68.4 442.1h1.2v1.2h-1.2zM75.1 557.7h1.2v1.2h-1.2zM75.2 495.5h1.2v1.2h-1.2zM75.4 456.7h1.2v1.2h-1.2zM58.8 542.0h1.2v1.2h-1.2zM57.0 373.6h1.2v1.2h-1.2zM65.4 436.5h1.2v1.2h-1.2zM60.8 531.0h1.2v1.2h-1.2zM76.0 513.8h1.2v1.2h-1.2zM87.8 540.3h1.2v1.2h-1.2zM69.7 534.8h1.2v1.2h-1.2zM89.9 553.6h1.2v1.2h-1.2zM82.3 450.9h1.2v1.2h-1.2zM68.2 541.5h1.2v1.2h-1.2zM66.4 558.4h1.2v1.2h-1.2zM77.2 550.4h1.2v1.2h-1.2zM84.9 494.2h1.2v1.2h-1.2zM65.9 548.7h1.2v1.2h-1.2zM81.8 505.3h1.2v1.2h-1.2zM56.0 514.4h1.2v1.2h-1.2zM74.3 561.5h1.2v1.2h-1.2zM79.4 506.2h1.2v1.2h-1.2zM80.2 532.0h1.2v1.2h-1.2zM72.5 507.8h1.2v1.2h-1.2zM67.1 539.3h1.2v1.2h-1.2zM57.3 473.6h1.2v1.2h-1.2zM70.1 431.8h1.2v1.2h-1.2zM64.8 404.6h1.2v1.2h-1.2zM61.8 533.4h1.2v1.2h-1.2zM76.8 502.3h1.2v1.2h-1.2zM67.2 434.2h1.2v1.2h-1.2zM91.9 530.8h1.2v1.2h-1.2zM83.1 460.9h1.2v1.2h-1.2zM67.8 414.0h1.2v1.2h-1.2zM79.4 551.8h1.2v1.2h-1.2zM77.6 416.9h1.2v1.2h-1.2zM62.4 434.9h1.2v1.2h-1.2zM70.4 517.5h1.2v1.2h-1.2zM77.6 540.1h1.2v1.2h-1.2zM88.0 563.2h1.2v1.2h-1.2zM57.3 451.2h1.2v1.2h-1.2zM69.0 505.3h1.2v1.2h-1.2zM75.9 425.7h1.2v1.2h-1.2zM55.1 503.8h1.2v1.2h-1.2zM67.6 489.4h1.2v1.2h-1.2zM69.2 467.0h1.2v1.2h-1.2zM78.4 522.7h1.2v1.2h-1.2zM68.9 471.4h1.2v1.2h-1.2zM58.2 506.9h1.2v1.2h-1.2zM71.8 436.1h1.2v1.2h-1.2zM67.0 489.3h1.2v1.2h-1.2zM75.5 535.6h1.2v1.2h-1.2zM69.6 462.4h1.2v1.2h-1.2zM68.3 501.7h1.2v1.2h-1.2zM78.8 519.7h1.2v1.2h-1.2zM61.3 437.3h1.2v1.2h-1.2zM65.5 468.0h1.2v1.2h-1.2zM56.7 499.2h1.2v1.2h-1.2zM64.1 510.3h1.2v1.2h-1.2zM76.3 484.3h1.2v1.2h-1.2zM97.9 488.9h1.2v1.2h-1.2zM83.2 511.1h1.2v1.2h-1.2zM93.7 434.8h1.2v1.2h-1.2zM143.9 474.9h1.2v1.2h-1.2zM137.8 374.7h1.2v1.2h-1.2zM82.5 409.1h1.2v1.2h-1.2zM104.0 377.2h1.2v1.2h-1.2zM80.4 423.0h1.2v1.2h-1.2zM101.6 442.8h1.2v1.2h-1.2zM149.2 414.6h1.2v1.2h-1.2zM90.8 381.8h1.2v1.2h-1.2zM74.6 397.8h1.2v1.2h-1.2zM120.3 408.5h1.2v1.2h-1.2zM104.4 476.5h1.2v1.2h-1.2zM94.6 401.3h1.2v1.2h-1.2zM195.8 466.3h1.2v1.2h-1.2zM65.2 448.6h1.2v1.2h-1.2zM135.7 435.4h1.2v1.2h-1.2zM77.4 388.7h1.2v1.2h-1.2zM108.6 385.8h1.2v1.2h-1.2zM161.8 447.4h1.2v1.2h-1.2zM71.3 428.6h1.2v1.2h-1.2zM61.7 404.6h1.2v1.2h-1.2zM63.5 425.8h1.2v1.2h-1.2zM208.0 396.5h1.2v1.2h-1.2zM109.9 460.6h1.2v1.2h-1.2zM95.4 454.1h1.2v1.2h-1.2zM94.1 477.2h1.2v1.2h-1.2zM68.3 378.5h1.2v1.2h-1.2zM65.1 443.8h1.2v1.2h-1.2zM119.8 407.8h1.2v1.2h-1.2zM60.5 402.2h1.2v1.2h-1.2zM191.5 418.7h1.2v1.2h-1.2zM64.8 416.4h1.2v1.2h-1.2zM182.7 376.4h1.2v1.2h-1.2zM70.0 471.4h1.2v1.2h-1.2zM101.9 449.4h1.2v1.2h-1.2zM63.9 397.3h1.2v1.2h-1.2zM117.9 456.5h1.2v1.2h-1.2zM91.6 453.3h1.2v1.2h-1.2zM70.4 375.7h1.2v1.2h-1.2zM75.4 425.8h1.2v1.2h-1.2zM119.7 451.7h1.2v1.2h-1.2zM99.6 398.5h1.2v1.2h-1.2zM248.3 370.3h1.2v1.2h-1.2zM150.2 372.0h1.2v1.2h-1.2zM219.7 372.3h1.2v1.2h-1.2zM67.7 370.7h1.2v1.2h-1.2zM82.7 370.5h1.2v1.2h-1.2zM244.9 371.5h1.2v1.2h-1.2zM236.7 370.9h1.2v1.2h-1.2zM224.6 371.1h1.2v1.2h-1.2zM109.4 371.9h1.2v1.2h-1.2zM239.7 370.3h1.2v1.2h-1.2zM173.3 371.5h1.2v1.2h-1.2zM101.4 370.9h1.2v1.2h-1.2zM86.9 370.5h1.2v1.2h-1.2zM108.4 371.5h1.2v1.2h-1.2zM183.8 370.5h1.2v1.2h-1.2zM62.2 370.8h1.2v1.2h-1.2zM188.9 370.5h1.2v1.2h-1.2zM119.3 370.5h1.2v1.2h-1.2zM211.1 371.4h1.2v1.2h-1.2zM72.0 370.3h1.2v1.2h-1.2zM135.1 371.4h1.2v1.2h-1.2zM181.4 370.2h1.2v1.2h-1.2zM91.1 371.7h1.2v1.2h-1.2zM137.9 370.7h1.2v1.2h-1.2zM118.4 372.4h1.2v1.2h-1.2zM119.3 371.4h1.2v1.2h-1.2zM127.9 371.0h1.2v1.2h-1.2zM224.2 372.5h1.2v1.2h-1.2zM129.1 370.5h1.2v1.2h-1.2zM198.3 370.5h1.2v1.2h-1.2zM61.1 372.3h1.2v1.2h-1.2zM140.5 372.1h1.2v1.2h-1.2zM137.2 372.2h1.2v1.2h-1.2zM147.6 370.4h1.2v1.2h-1.2zM62.8 371.4h1.2v1.2h-1.2zM181.7 372.3h1.2v1.2h-1.2zM76.9 371.6h1.2v1.2h-1.2zM130.5 371.3h1.2v1.2h-1.2zM87.7 370.7h1.2v1.2h-1.2zM159.0 372.3h1.2v1.2h-1.2zM80.7 371.2h1.2v1.2h-1.2zM212.9 372.4h1.2v1.2h-1.2zM97.5 370.3h1.2v1.2h-1.2zM239.2 372.4h1.2v1.2h-1.2zM151.7 370.1h1.2v1.2h-1.2zM236.0 371.0h1.2v1.2h-1.2zM231.8 371.6h1.2v1.2h-1.2zM216.7 370.4h1.2v1.2h-1.2zM209.3 370.6h1.2v1.2h-1.2zM136.9 372.1h1.2v1.2h-1.2zM217.5 370.5h1.2v1.2h-1.2zM101.4 371.0h1.2v1.2h-1.2zM158.4 371.0h1.2v1.2h-1.2zM83.4 370.6h1.2v1.2h-1.2zM197.7 372.2h1.2v1.2h-1.2zM67.8 371.4h1.2v1.2h-1.2zM203.9 370.1h1.2v1.2h-1.2zM219.3 370.3h1.2v1.2h-1.2zM173.9 371.4h1.2v1.2h-1.2zM179.1 370.8h1.2v1.2h-1.2z" fill="#2f5cff"/>
<g filter="url(#s1)">
<ellipse cx="72" cy="530" rx="8" ry="28" fill="#00d0ff" fill-opacity="0.45" filter="url(#b2.5)" transform="rotate(18 72 530)"/>
</g>
<g filter="url(#s2)">
<ellipse cx="67" cy="548" rx="6" ry="22" fill="#40ff40" fill-opacity="0.5" filter="url(#b2)" transform="rotate(20 67 548)"/>
</g>
<g filter="url(#s3)">
<ellipse cx="62" cy="560" rx="4" ry="14" fill="#ffd000" fill-opacity="0.5" filter="url(#b1.5)" transform="rotate(20 62 560)"/>
</g>
<g filter="url(#spkc)">
<ellipse cx="58.5" cy="570" rx="3" ry="8" fill="#ff2a00" fill-opacity="0.6" filter="url(#b1.2)" transform="rotate(20 58.5 570)"/>
</g>
</g>
<polyline points="56,580.4 80,574.4 123,543.4 167,468 167,421 115,404.5 79,423.7 64,463 61,490 58,530 56,580.4" fill="none" stroke="#0c0c98" stroke-width="3.3" stroke-linejoin="round" stroke-linejoin="miter"/>
<rect x="54.5" y="368.4" width="213" height="213" fill="none" stroke="#444" stroke-width="1.1"/>
<line x1="50.5" y1="577.4" x2="54.5" y2="577.4" stroke="#333" stroke-width="1.1"/>
<text x="52" y="581.9" font-size="12" text-anchor="end" fill="#111" font-family='"Liberation Serif", serif'>0</text>
<line x1="50.5" y1="536.7" x2="54.5" y2="536.7" stroke="#333" stroke-width="1.1"/>
<line x1="52" y1="557" x2="54.5" y2="557" stroke="#444" stroke-width="0.9"/>
<text x="52" y="541.2" font-size="12" text-anchor="end" fill="#111" font-family='"Liberation Serif", serif'>200</text>
<line x1="50.5" y1="496" x2="54.5" y2="496" stroke="#333" stroke-width="1.1"/>
<line x1="52" y1="516.4" x2="54.5" y2="516.4" stroke="#444" stroke-width="0.9"/>
<text x="52" y="500.5" font-size="12" text-anchor="end" fill="#111" font-family='"Liberation Serif", serif'>400</text>
<line x1="50.5" y1="455.3" x2="54.5" y2="455.3" stroke="#333" stroke-width="1.1"/>
<line x1="52" y1="475.6" x2="54.5" y2="475.6" stroke="#444" stroke-width="0.9"/>
<text x="52" y="459.8" font-size="12" text-anchor="end" fill="#111" font-family='"Liberation Serif", serif'>600</text>
<line x1="50.5" y1="414.6" x2="54.5" y2="414.6" stroke="#333" stroke-width="1.1"/>
<line x1="52" y1="434.9" x2="54.5" y2="434.9" stroke="#444" stroke-width="0.9"/>
<text x="52" y="419.1" font-size="12" text-anchor="end" fill="#111" font-family='"Liberation Serif", serif'>800</text>
<line x1="50.5" y1="373.9" x2="54.5" y2="373.9" stroke="#333" stroke-width="1.1"/>
<line x1="52" y1="394.2" x2="54.5" y2="394.2" stroke="#444" stroke-width="0.9"/>
<text x="52" y="378.4" font-size="12" text-anchor="end" fill="#111" font-family='"Liberation Serif", serif'>1000</text>
<line x1="54.5" y1="581.4" x2="54.5" y2="586.4" stroke="#333" stroke-width="1.1"/>
<line x1="75" y1="581.4" x2="75" y2="584.4" stroke="#444" stroke-width="0.9"/>
<line x1="95.5" y1="581.4" x2="95.5" y2="586.4" stroke="#333" stroke-width="1.1"/>
<line x1="116" y1="581.4" x2="116" y2="584.4" stroke="#444" stroke-width="0.9"/>
<text x="95.5" y="599" font-size="12" text-anchor="middle" fill="#111" font-family='"Liberation Serif", serif'>200</text>
<line x1="136.6" y1="581.4" x2="136.6" y2="586.4" stroke="#333" stroke-width="1.1"/>
<line x1="157.1" y1="581.4" x2="157.1" y2="584.4" stroke="#444" stroke-width="0.9"/>
<text x="136.6" y="599" font-size="12" text-anchor="middle" fill="#111" font-family='"Liberation Serif", serif'>400</text>
<line x1="177.6" y1="581.4" x2="177.6" y2="586.4" stroke="#333" stroke-width="1.1"/>
<line x1="198.1" y1="581.4" x2="198.1" y2="584.4" stroke="#444" stroke-width="0.9"/>
<text x="177.6" y="599" font-size="12" text-anchor="middle" fill="#111" font-family='"Liberation Serif", serif'>600</text>
<line x1="218.7" y1="581.4" x2="218.7" y2="586.4" stroke="#333" stroke-width="1.1"/>
<line x1="239.2" y1="581.4" x2="239.2" y2="584.4" stroke="#444" stroke-width="0.9"/>
<text x="218.7" y="599" font-size="12" text-anchor="middle" fill="#111" font-family='"Liberation Serif", serif'>800</text>
<line x1="259.8" y1="581.4" x2="259.8" y2="586.4" stroke="#333" stroke-width="1.1"/>
<text x="259.8" y="599" font-size="12" text-anchor="middle" fill="#111" font-family='"Liberation Serif", serif'>1000</text>
<text x="181" y="508.6" font-size="31" font-weight="bold" fill="#000" font-family='"Liberation Serif", serif' textLength="67" lengthAdjust="spacingAndGlyphs">96%</text>
<text transform="translate(29.3,512) rotate(-90)" font-size="32" fill="#000" font-family='"Liberation Serif", serif'>SSC</text>
<text x="122" y="631.5" font-size="32" fill="#000" font-family='"Liberation Serif", serif'>FSC</text>
<line x1="16.8" y1="621.5" x2="16.8" y2="522" stroke="#444" stroke-width="1.8"/>
<line x1="15.9" y1="620.5" x2="116" y2="620.5" stroke="#333" stroke-width="1.8"/>
<polygon points="16.8,517 13.8,522.6 19.8,522.6" fill="#000" stroke="none" stroke-width="1"/>
<polygon points="121,620.5 115.2,617.5 115.2,623.5" fill="#000" stroke="none" stroke-width="1"/>
<rect x="307.6" y="369" width="211.9" height="213" fill="none" stroke="#555" stroke-width="1"/>
<line x1="302.1" y1="582" x2="307.6" y2="582" stroke="#333" stroke-width="1.1"/>
<line x1="305.1" y1="571.9" x2="307.6" y2="571.9" stroke="#444" stroke-width="0.9"/>
<line x1="305.1" y1="561.7" x2="307.6" y2="561.7" stroke="#444" stroke-width="0.9"/>
<line x1="305.1" y1="551.5" x2="307.6" y2="551.5" stroke="#444" stroke-width="0.9"/>
<line x1="302.1" y1="541.4" x2="307.6" y2="541.4" stroke="#333" stroke-width="1.1"/>
<line x1="305.1" y1="531.2" x2="307.6" y2="531.2" stroke="#444" stroke-width="0.9"/>
<line x1="305.1" y1="521.1" x2="307.6" y2="521.1" stroke="#444" stroke-width="0.9"/>
<line x1="305.1" y1="510.9" x2="307.6" y2="510.9" stroke="#444" stroke-width="0.9"/>
<line x1="302.1" y1="500.8" x2="307.6" y2="500.8" stroke="#333" stroke-width="1.1"/>
<line x1="305.1" y1="490.6" x2="307.6" y2="490.6" stroke="#444" stroke-width="0.9"/>
<line x1="305.1" y1="480.5" x2="307.6" y2="480.5" stroke="#444" stroke-width="0.9"/>
<line x1="305.1" y1="470.4" x2="307.6" y2="470.4" stroke="#444" stroke-width="0.9"/>
<line x1="302.1" y1="460.2" x2="307.6" y2="460.2" stroke="#333" stroke-width="1.1"/>
<line x1="305.1" y1="450" x2="307.6" y2="450" stroke="#444" stroke-width="0.9"/>
<line x1="305.1" y1="439.9" x2="307.6" y2="439.9" stroke="#444" stroke-width="0.9"/>
<line x1="305.1" y1="429.8" x2="307.6" y2="429.8" stroke="#444" stroke-width="0.9"/>
<line x1="302.1" y1="419.6" x2="307.6" y2="419.6" stroke="#333" stroke-width="1.1"/>
<line x1="305.1" y1="409.4" x2="307.6" y2="409.4" stroke="#444" stroke-width="0.9"/>
<line x1="305.1" y1="399.3" x2="307.6" y2="399.3" stroke="#444" stroke-width="0.9"/>
<line x1="305.1" y1="389.1" x2="307.6" y2="389.1" stroke="#444" stroke-width="0.9"/>
<line x1="302.1" y1="379" x2="307.6" y2="379" stroke="#333" stroke-width="1.1"/>
<line x1="302.1" y1="582" x2="519.5" y2="582" stroke="#555" stroke-width="1.3"/>
<line x1="308" y1="582" x2="308" y2="587.5" stroke="#222" stroke-width="1.1"/>
<text x="304" y="600.8" font-size="12" fill="#111" font-family='"Liberation Serif", serif' letter-spacing="-0.4">10<tspan dy="-4.6" font-size="6.8">0</tspan></text>
<line x1="323.8" y1="582" x2="323.8" y2="584.6" stroke="#444" stroke-width="0.9"/>
<line x1="333.1" y1="582" x2="333.1" y2="584.6" stroke="#444" stroke-width="0.9"/>
<line x1="339.7" y1="582" x2="339.7" y2="584.6" stroke="#444" stroke-width="0.9"/>
<line x1="344.8" y1="582" x2="344.8" y2="585.2" stroke="#444" stroke-width="0.9"/>
<line x1="348.9" y1="582" x2="348.9" y2="584.6" stroke="#444" stroke-width="0.9"/>
<line x1="352.5" y1="582" x2="352.5" y2="584.6" stroke="#444" stroke-width="0.9"/>
<line x1="355.5" y1="582" x2="355.5" y2="584.6" stroke="#444" stroke-width="0.9"/>
<line x1="358.2" y1="582" x2="358.2" y2="584.6" stroke="#444" stroke-width="0.9"/>
<line x1="360.6" y1="582" x2="360.6" y2="587.5" stroke="#222" stroke-width="1.1"/>
<text x="356.6" y="600.8" font-size="12" fill="#111" font-family='"Liberation Serif", serif' letter-spacing="-0.4">10<tspan dy="-4.6" font-size="6.8">1</tspan></text>
<line x1="376.4" y1="582" x2="376.4" y2="584.6" stroke="#444" stroke-width="0.9"/>
<line x1="385.7" y1="582" x2="385.7" y2="584.6" stroke="#444" stroke-width="0.9"/>
<line x1="392.3" y1="582" x2="392.3" y2="584.6" stroke="#444" stroke-width="0.9"/>
<line x1="397.4" y1="582" x2="397.4" y2="585.2" stroke="#444" stroke-width="0.9"/>
<line x1="401.5" y1="582" x2="401.5" y2="584.6" stroke="#444" stroke-width="0.9"/>
<line x1="405.1" y1="582" x2="405.1" y2="584.6" stroke="#444" stroke-width="0.9"/>
<line x1="408.1" y1="582" x2="408.1" y2="584.6" stroke="#444" stroke-width="0.9"/>
<line x1="410.8" y1="582" x2="410.8" y2="584.6" stroke="#444" stroke-width="0.9"/>
<line x1="413.2" y1="582" x2="413.2" y2="587.5" stroke="#222" stroke-width="1.1"/>
<text x="409.2" y="600.8" font-size="12" fill="#111" font-family='"Liberation Serif", serif' letter-spacing="-0.4">10<tspan dy="-4.6" font-size="6.8">2</tspan></text>
<line x1="429" y1="582" x2="429" y2="584.6" stroke="#444" stroke-width="0.9"/>
<line x1="438.3" y1="582" x2="438.3" y2="584.6" stroke="#444" stroke-width="0.9"/>
<line x1="444.9" y1="582" x2="444.9" y2="584.6" stroke="#444" stroke-width="0.9"/>
<line x1="450" y1="582" x2="450" y2="585.2" stroke="#444" stroke-width="0.9"/>
<line x1="454.1" y1="582" x2="454.1" y2="584.6" stroke="#444" stroke-width="0.9"/>
<line x1="457.7" y1="582" x2="457.7" y2="584.6" stroke="#444" stroke-width="0.9"/>
<line x1="460.7" y1="582" x2="460.7" y2="584.6" stroke="#444" stroke-width="0.9"/>
<line x1="463.4" y1="582" x2="463.4" y2="584.6" stroke="#444" stroke-width="0.9"/>
<line x1="465.8" y1="582" x2="465.8" y2="587.5" stroke="#222" stroke-width="1.1"/>
<text x="461.8" y="600.8" font-size="12" fill="#111" font-family='"Liberation Serif", serif' letter-spacing="-0.4">10<tspan dy="-4.6" font-size="6.8">3</tspan></text>
<line x1="481.6" y1="582" x2="481.6" y2="584.6" stroke="#444" stroke-width="0.9"/>
<line x1="490.9" y1="582" x2="490.9" y2="584.6" stroke="#444" stroke-width="0.9"/>
<line x1="497.5" y1="582" x2="497.5" y2="584.6" stroke="#444" stroke-width="0.9"/>
<line x1="502.6" y1="582" x2="502.6" y2="585.2" stroke="#444" stroke-width="0.9"/>
<line x1="506.7" y1="582" x2="506.7" y2="584.6" stroke="#444" stroke-width="0.9"/>
<line x1="510.3" y1="582" x2="510.3" y2="584.6" stroke="#444" stroke-width="0.9"/>
<line x1="513.3" y1="582" x2="513.3" y2="584.6" stroke="#444" stroke-width="0.9"/>
<line x1="516" y1="582" x2="516" y2="584.6" stroke="#444" stroke-width="0.9"/>
<line x1="518.4" y1="582" x2="518.4" y2="587.5" stroke="#222" stroke-width="1.1"/>
<text x="514.4" y="600.8" font-size="12" fill="#111" font-family='"Liberation Serif", serif' letter-spacing="-0.4">10<tspan dy="-4.6" font-size="6.8">4</tspan></text>
<polygon points="309,582 309,582 310,500.3 312,496.3 315.1,492.3 318.1,460.2 322.1,424.1 325.1,422.1 327.1,432.1 330.1,416.1 333.1,414.1 336.1,419.1 339.1,400.1 341.7,382 344.1,406.1 346.1,420.1 349.1,418.1 351.5,408.1 354.1,420.1 357.1,466.2 360.1,468.2 363.1,488.3 366.2,518.3 369.2,540.4 372.2,552.4 376.2,566.4 382.2,576.4 388.2,582 388.2,582" fill="#7f7f7f" stroke="#9a9a9a" stroke-width="0.8"/>
<polyline points="309.4,582 310,503.3 311,540.4 313,577.4 318.1,579.4 330.1,580.4 340.1,579.4 346.1,580.4 354.1,575.4 364.1,576.4 372.2,576.4 378.2,569.4 382.2,571.4 388.2,570.4 394.2,560.4 399.2,558.4 402.2,559.4 405.2,551.4 408.2,558.4 412.2,566.4 416.3,566.4 420.3,548.4 424.3,550.4 428.3,555.4 432.3,552.4 435.3,558.4 439.3,544.4 443.3,550.4 445.3,556.4 448.3,552.4 450.3,524.3 452.3,472.2 455.3,446.2 458.3,452.2 460.3,434.1 463.3,426.1 465.4,385.1 467.4,401.1 470.4,391.1 472.4,400.1 474.4,426.1 477.4,436.2 479.4,470.2 481.4,516.3 484.4,544.4 487.4,568.4 492.4,579.4 498.4,581.6 510.4,581 518.5,581.6" fill="none" stroke="#000" stroke-width="3.1" stroke-linejoin="round"/>
<line x1="377.6" y1="526.3" x2="518.5" y2="526.3" stroke="#111" stroke-width="2.3"/>
<line x1="378.9" y1="519.8" x2="378.9" y2="532.8" stroke="#111" stroke-width="3.2"/>
<line x1="517.2" y1="519.8" x2="517.2" y2="532.8" stroke="#111" stroke-width="3.2"/>
<text x="384" y="508.6" font-size="31" font-weight="bold" fill="#000" font-family='"Liberation Serif", serif' textLength="66.5" lengthAdjust="spacingAndGlyphs">95%</text>
<text x="314" y="633.5" font-size="31.5" fill="#000" font-family='"Liberation Serif", serif'>CD90.2</text>
<line x1="418" y1="622.9" x2="517.6" y2="622.9" stroke="#555" stroke-width="1.6"/>
<polygon points="522.6,622.9 517,619.9 517,625.9" fill="#000" stroke="none" stroke-width="1"/>
<rect x="570.6" y="368.4" width="213.9" height="214" fill="none" stroke="#555" stroke-width="1"/>
<line x1="565.1" y1="582.4" x2="570.6" y2="582.4" stroke="#333" stroke-width="1.1"/>
<line x1="568.1" y1="572.2" x2="570.6" y2="572.2" stroke="#444" stroke-width="0.9"/>
<line x1="568.1" y1="562" x2="570.6" y2="562" stroke="#444" stroke-width="0.9"/>
<line x1="568.1" y1="551.8" x2="570.6" y2="551.8" stroke="#444" stroke-width="0.9"/>
<line x1="565.1" y1="541.6" x2="570.6" y2="541.6" stroke="#333" stroke-width="1.1"/>
<line x1="568.1" y1="531.4" x2="570.6" y2="531.4" stroke="#444" stroke-width="0.9"/>
<line x1="568.1" y1="521.2" x2="570.6" y2="521.2" stroke="#444" stroke-width="0.9"/>
<line x1="568.1" y1="511" x2="570.6" y2="511" stroke="#444" stroke-width="0.9"/>
<line x1="565.1" y1="500.8" x2="570.6" y2="500.8" stroke="#333" stroke-width="1.1"/>
<line x1="568.1" y1="490.6" x2="570.6" y2="490.6" stroke="#444" stroke-width="0.9"/>
<line x1="568.1" y1="480.4" x2="570.6" y2="480.4" stroke="#444" stroke-width="0.9"/>
<line x1="568.1" y1="470.2" x2="570.6" y2="470.2" stroke="#444" stroke-width="0.9"/>
<line x1="565.1" y1="460" x2="570.6" y2="460" stroke="#333" stroke-width="1.1"/>
<line x1="568.1" y1="449.8" x2="570.6" y2="449.8" stroke="#444" stroke-width="0.9"/>
<line x1="568.1" y1="439.6" x2="570.6" y2="439.6" stroke="#444" stroke-width="0.9"/>
<line x1="568.1" y1="429.4" x2="570.6" y2="429.4" stroke="#444" stroke-width="0.9"/>
<line x1="565.1" y1="419.2" x2="570.6" y2="419.2" stroke="#333" stroke-width="1.1"/>
<line x1="568.1" y1="409" x2="570.6" y2="409" stroke="#444" stroke-width="0.9"/>
<line x1="568.1" y1="398.8" x2="570.6" y2="398.8" stroke="#444" stroke-width="0.9"/>
<line x1="568.1" y1="388.6" x2="570.6" y2="388.6" stroke="#444" stroke-width="0.9"/>
<line x1="565.1" y1="378.4" x2="570.6" y2="378.4" stroke="#333" stroke-width="1.1"/>
<line x1="565.1" y1="582.4" x2="784.5" y2="582.4" stroke="#555" stroke-width="1.3"/>
<line x1="570.6" y1="582.4" x2="570.6" y2="587.9" stroke="#222" stroke-width="1.1"/>
<text x="564.6" y="602.8" font-size="12" fill="#111" font-family='"Liberation Serif", serif' letter-spacing="-0.4">10<tspan dy="-4.6" font-size="6.8">0</tspan></text>
<line x1="586.7" y1="582.4" x2="586.7" y2="585" stroke="#444" stroke-width="0.9"/>
<line x1="596.1" y1="582.4" x2="596.1" y2="585" stroke="#444" stroke-width="0.9"/>
<line x1="602.8" y1="582.4" x2="602.8" y2="585" stroke="#444" stroke-width="0.9"/>
<line x1="607.9" y1="582.4" x2="607.9" y2="585.6" stroke="#444" stroke-width="0.9"/>
<line x1="612.2" y1="582.4" x2="612.2" y2="585" stroke="#444" stroke-width="0.9"/>
<line x1="615.7" y1="582.4" x2="615.7" y2="585" stroke="#444" stroke-width="0.9"/>
<line x1="618.8" y1="582.4" x2="618.8" y2="585" stroke="#444" stroke-width="0.9"/>
<line x1="621.6" y1="582.4" x2="621.6" y2="585" stroke="#444" stroke-width="0.9"/>
<line x1="624" y1="582.4" x2="624" y2="587.9" stroke="#222" stroke-width="1.1"/>
<text x="620" y="602.8" font-size="12" fill="#111" font-family='"Liberation Serif", serif' letter-spacing="-0.4">10<tspan dy="-4.6" font-size="6.8">1</tspan></text>
<line x1="640.1" y1="582.4" x2="640.1" y2="585" stroke="#444" stroke-width="0.9"/>
<line x1="649.5" y1="582.4" x2="649.5" y2="585" stroke="#444" stroke-width="0.9"/>
<line x1="656.2" y1="582.4" x2="656.2" y2="585" stroke="#444" stroke-width="0.9"/>
<line x1="661.3" y1="582.4" x2="661.3" y2="585.6" stroke="#444" stroke-width="0.9"/>
<line x1="665.6" y1="582.4" x2="665.6" y2="585" stroke="#444" stroke-width="0.9"/>
<line x1="669.1" y1="582.4" x2="669.1" y2="585" stroke="#444" stroke-width="0.9"/>
<line x1="672.2" y1="582.4" x2="672.2" y2="585" stroke="#444" stroke-width="0.9"/>
<line x1="675" y1="582.4" x2="675" y2="585" stroke="#444" stroke-width="0.9"/>
<line x1="677.4" y1="582.4" x2="677.4" y2="587.9" stroke="#222" stroke-width="1.1"/>
<text x="673.4" y="602.8" font-size="12" fill="#111" font-family='"Liberation Serif", serif' letter-spacing="-0.4">10<tspan dy="-4.6" font-size="6.8">2</tspan></text>
<line x1="693.5" y1="582.4" x2="693.5" y2="585" stroke="#444" stroke-width="0.9"/>
<line x1="702.9" y1="582.4" x2="702.9" y2="585" stroke="#444" stroke-width="0.9"/>
<line x1="709.6" y1="582.4" x2="709.6" y2="585" stroke="#444" stroke-width="0.9"/>
<line x1="714.7" y1="582.4" x2="714.7" y2="585.6" stroke="#444" stroke-width="0.9"/>
<line x1="719" y1="582.4" x2="719" y2="585" stroke="#444" stroke-width="0.9"/>
<line x1="722.5" y1="582.4" x2="722.5" y2="585" stroke="#444" stroke-width="0.9"/>
<line x1="725.6" y1="582.4" x2="725.6" y2="585" stroke="#444" stroke-width="0.9"/>
<line x1="728.4" y1="582.4" x2="728.4" y2="585" stroke="#444" stroke-width="0.9"/>
<line x1="730.8" y1="582.4" x2="730.8" y2="587.9" stroke="#222" stroke-width="1.1"/>
<text x="726.8" y="602.8" font-size="12" fill="#111" font-family='"Liberation Serif", serif' letter-spacing="-0.4">10<tspan dy="-4.6" font-size="6.8">3</tspan></text>
<line x1="746.9" y1="582.4" x2="746.9" y2="585" stroke="#444" stroke-width="0.9"/>
<line x1="756.3" y1="582.4" x2="756.3" y2="585" stroke="#444" stroke-width="0.9"/>
<line x1="763" y1="582.4" x2="763" y2="585" stroke="#444" stroke-width="0.9"/>
<line x1="768.1" y1="582.4" x2="768.1" y2="585.6" stroke="#444" stroke-width="0.9"/>
<line x1="772.4" y1="582.4" x2="772.4" y2="585" stroke="#444" stroke-width="0.9"/>
<line x1="775.9" y1="582.4" x2="775.9" y2="585" stroke="#444" stroke-width="0.9"/>
<line x1="779" y1="582.4" x2="779" y2="585" stroke="#444" stroke-width="0.9"/>
<line x1="781.8" y1="582.4" x2="781.8" y2="585" stroke="#444" stroke-width="0.9"/>
<line x1="784.2" y1="582.4" x2="784.2" y2="587.9" stroke="#222" stroke-width="1.1"/>
<text x="780.2" y="602.8" font-size="12" fill="#111" font-family='"Liberation Serif", serif' letter-spacing="-0.4">10<tspan dy="-4.6" font-size="6.8">4</tspan></text>
<polygon points="574,582.4 574,582 574,471.2 576,477.2 579,460.2 583.1,424.1 587.1,418.1 590.1,386.1 593.1,384 596.1,381 599.1,386.1 601.1,406.1 604.1,428.1 607.1,428.1 610.1,480.2 612.1,514.3 615.1,536.4 619.1,566.4 624.1,577.4 629.1,582 629.1,582.4" fill="#7f7f7f" stroke="#9a9a9a" stroke-width="0.8"/>
<polyline points="572.6,582 572.6,371" fill="none" stroke="#d80000" stroke-width="3.0" stroke-linejoin="round"/>
<polyline points="573.4,540.4 574,550.4 576,552.4 579,526.3 583.1,518.3 587.1,486.3 591.1,456.2 594.1,430.1 596.1,438.2 598.1,422.1 600.1,406.1 602.1,408.1 604.1,384 607.1,383 610.1,392.1 614.1,430.1 619.1,496.3 624.1,540.4 629.1,568.4 635.2,576.4 641.2,581.4 653.2,581 783.5,582" fill="none" stroke="#d80000" stroke-width="3.0" stroke-linejoin="round"/>
<line x1="634.6" y1="540" x2="783.5" y2="540" stroke="#111" stroke-width="2.3"/>
<line x1="635.9" y1="533.5" x2="635.9" y2="546.5" stroke="#111" stroke-width="3.2"/>
<line x1="782.2" y1="533.5" x2="782.2" y2="546.5" stroke="#111" stroke-width="3.2"/>
<text x="675.5" y="510" font-size="31" font-weight="bold" fill="#000" font-family='"Liberation Serif", serif' textLength="73.3" lengthAdjust="spacingAndGlyphs">0.2%</text>
<text x="579.4" y="633.5" font-size="31.5" fill="#000" font-family='"Liberation Serif", serif'>CD48</text>
<line x1="678" y1="622.9" x2="777.6" y2="622.9" stroke="#555" stroke-width="1.6"/>
<polygon points="782.6,622.9 777,619.9 777,625.9" fill="#000" stroke="none" stroke-width="1"/>
<rect x="826" y="369" width="215.5" height="214.4" fill="none" stroke="#555" stroke-width="1"/>
<line x1="820.5" y1="583.4" x2="826" y2="583.4" stroke="#333" stroke-width="1.1"/>
<line x1="823.5" y1="573.2" x2="826" y2="573.2" stroke="#444" stroke-width="0.9"/>
<line x1="823.5" y1="562.9" x2="826" y2="562.9" stroke="#444" stroke-width="0.9"/>
<line x1="823.5" y1="552.7" x2="826" y2="552.7" stroke="#444" stroke-width="0.9"/>
<line x1="820.5" y1="542.5" x2="826" y2="542.5" stroke="#333" stroke-width="1.1"/>
<line x1="823.5" y1="532.3" x2="826" y2="532.3" stroke="#444" stroke-width="0.9"/>
<line x1="823.5" y1="522" x2="826" y2="522" stroke="#444" stroke-width="0.9"/>
<line x1="823.5" y1="511.8" x2="826" y2="511.8" stroke="#444" stroke-width="0.9"/>
<line x1="820.5" y1="501.6" x2="826" y2="501.6" stroke="#333" stroke-width="1.1"/>
<line x1="823.5" y1="491.4" x2="826" y2="491.4" stroke="#444" stroke-width="0.9"/>
<line x1="823.5" y1="481.1" x2="826" y2="481.1" stroke="#444" stroke-width="0.9"/>
<line x1="823.5" y1="470.9" x2="826" y2="470.9" stroke="#444" stroke-width="0.9"/>
<line x1="820.5" y1="460.7" x2="826" y2="460.7" stroke="#333" stroke-width="1.1"/>
<line x1="823.5" y1="450.5" x2="826" y2="450.5" stroke="#444" stroke-width="0.9"/>
<line x1="823.5" y1="440.2" x2="826" y2="440.2" stroke="#444" stroke-width="0.9"/>
<line x1="823.5" y1="430" x2="826" y2="430" stroke="#444" stroke-width="0.9"/>
<line x1="820.5" y1="419.8" x2="826" y2="419.8" stroke="#333" stroke-width="1.1"/>
<line x1="823.5" y1="409.6" x2="826" y2="409.6" stroke="#444" stroke-width="0.9"/>
<line x1="823.5" y1="399.4" x2="826" y2="399.4" stroke="#444" stroke-width="0.9"/>
<line x1="823.5" y1="389.1" x2="826" y2="389.1" stroke="#444" stroke-width="0.9"/>
<line x1="820.5" y1="378.9" x2="826" y2="378.9" stroke="#333" stroke-width="1.1"/>
<line x1="820.5" y1="583.4" x2="1041.5" y2="583.4" stroke="#555" stroke-width="1.3"/>
<line x1="826.4" y1="583.4" x2="826.4" y2="588.9" stroke="#222" stroke-width="1.1"/>
<text x="822.4" y="603" font-size="12" fill="#111" font-family='"Liberation Serif", serif' letter-spacing="-0.4">10<tspan dy="-4.6" font-size="6.8">0</tspan></text>
<line x1="842.5" y1="583.4" x2="842.5" y2="586" stroke="#444" stroke-width="0.9"/>
<line x1="851.9" y1="583.4" x2="851.9" y2="586" stroke="#444" stroke-width="0.9"/>
<line x1="858.6" y1="583.4" x2="858.6" y2="586" stroke="#444" stroke-width="0.9"/>
<line x1="863.8" y1="583.4" x2="863.8" y2="586.6" stroke="#444" stroke-width="0.9"/>
<line x1="868" y1="583.4" x2="868" y2="586" stroke="#444" stroke-width="0.9"/>
<line x1="871.6" y1="583.4" x2="871.6" y2="586" stroke="#444" stroke-width="0.9"/>
<line x1="874.7" y1="583.4" x2="874.7" y2="586" stroke="#444" stroke-width="0.9"/>
<line x1="877.5" y1="583.4" x2="877.5" y2="586" stroke="#444" stroke-width="0.9"/>
<line x1="879.9" y1="583.4" x2="879.9" y2="588.9" stroke="#222" stroke-width="1.1"/>
<text x="875.9" y="603" font-size="12" fill="#111" font-family='"Liberation Serif", serif' letter-spacing="-0.4">10<tspan dy="-4.6" font-size="6.8">1</tspan></text>
<line x1="896" y1="583.4" x2="896" y2="586" stroke="#444" stroke-width="0.9"/>
<line x1="905.5" y1="583.4" x2="905.5" y2="586" stroke="#444" stroke-width="0.9"/>
<line x1="912.1" y1="583.4" x2="912.1" y2="586" stroke="#444" stroke-width="0.9"/>
<line x1="917.3" y1="583.4" x2="917.3" y2="586.6" stroke="#444" stroke-width="0.9"/>
<line x1="921.6" y1="583.4" x2="921.6" y2="586" stroke="#444" stroke-width="0.9"/>
<line x1="925.1" y1="583.4" x2="925.1" y2="586" stroke="#444" stroke-width="0.9"/>
<line x1="928.3" y1="583.4" x2="928.3" y2="586" stroke="#444" stroke-width="0.9"/>
<line x1="931" y1="583.4" x2="931" y2="586" stroke="#444" stroke-width="0.9"/>
<line x1="933.4" y1="583.4" x2="933.4" y2="588.9" stroke="#222" stroke-width="1.1"/>
<text x="929.4" y="603" font-size="12" fill="#111" font-family='"Liberation Serif", serif' letter-spacing="-0.4">10<tspan dy="-4.6" font-size="6.8">2</tspan></text>
<line x1="949.6" y1="583.4" x2="949.6" y2="586" stroke="#444" stroke-width="0.9"/>
<line x1="959" y1="583.4" x2="959" y2="586" stroke="#444" stroke-width="0.9"/>
<line x1="965.7" y1="583.4" x2="965.7" y2="586" stroke="#444" stroke-width="0.9"/>
<line x1="970.8" y1="583.4" x2="970.8" y2="586.6" stroke="#444" stroke-width="0.9"/>
<line x1="975.1" y1="583.4" x2="975.1" y2="586" stroke="#444" stroke-width="0.9"/>
<line x1="978.7" y1="583.4" x2="978.7" y2="586" stroke="#444" stroke-width="0.9"/>
<line x1="981.8" y1="583.4" x2="981.8" y2="586" stroke="#444" stroke-width="0.9"/>
<line x1="984.5" y1="583.4" x2="984.5" y2="586" stroke="#444" stroke-width="0.9"/>
<line x1="987" y1="583.4" x2="987" y2="588.9" stroke="#222" stroke-width="1.1"/>
<text x="983" y="603" font-size="12" fill="#111" font-family='"Liberation Serif", serif' letter-spacing="-0.4">10<tspan dy="-4.6" font-size="6.8">3</tspan></text>
<line x1="1003.1" y1="583.4" x2="1003.1" y2="586" stroke="#444" stroke-width="0.9"/>
<line x1="1012.5" y1="583.4" x2="1012.5" y2="586" stroke="#444" stroke-width="0.9"/>
<line x1="1019.2" y1="583.4" x2="1019.2" y2="586" stroke="#444" stroke-width="0.9"/>
<line x1="1024.4" y1="583.4" x2="1024.4" y2="586.6" stroke="#444" stroke-width="0.9"/>
<line x1="1028.6" y1="583.4" x2="1028.6" y2="586" stroke="#444" stroke-width="0.9"/>
<line x1="1032.2" y1="583.4" x2="1032.2" y2="586" stroke="#444" stroke-width="0.9"/>
<line x1="1035.3" y1="583.4" x2="1035.3" y2="586" stroke="#444" stroke-width="0.9"/>
<line x1="1038" y1="583.4" x2="1038" y2="586" stroke="#444" stroke-width="0.9"/>
<line x1="1040.5" y1="583.4" x2="1040.5" y2="588.9" stroke="#222" stroke-width="1.1"/>
<text x="1036.5" y="603" font-size="12" fill="#111" font-family='"Liberation Serif", serif' letter-spacing="-0.4">10<tspan dy="-4.6" font-size="6.8">4</tspan></text>
<polygon points="829,583.4 829,582.4 830,484.2 832,476.2 835.1,458.2 838.1,444.2 840.1,412.1 842.1,436.2 845.1,418.1 847.1,382 849.1,420.1 852.1,424.1 855.1,426.1 858.1,446.2 861.1,454.2 864.1,500.3 868.1,536.4 872.1,566.4 876.1,578.4 882.1,582.4 882.1,583.4" fill="#7f7f7f" stroke="#9a9a9a" stroke-width="0.8"/>
<polyline points="828.4,583.4 828.4,372 830,384 831,512.3 833,514.3 835.1,522.3 837.1,522.3 838.1,504.3 842.1,498.3 845.1,432.1 847.1,428.1 849.1,440.2 852.1,420.1 854.1,382 856.1,424.1 858.1,400.1 861.1,386.1 864.1,406.1 867.1,432.1 872.1,444.2 876.1,504.3 879.1,536.4 883.1,564.4 888.2,577.4 896.2,582.4 904.2,582.4 910.2,581 916.2,581 922.2,583 1038.5,583" fill="none" stroke="#0a10c8" stroke-width="3.0" stroke-linejoin="round"/>
<line x1="887" y1="544" x2="1036.5" y2="544" stroke="#111" stroke-width="2.3"/>
<line x1="888.3" y1="537.5" x2="888.3" y2="550.5" stroke="#111" stroke-width="3.2"/>
<line x1="1035.2" y1="537.5" x2="1035.2" y2="550.5" stroke="#111" stroke-width="3.2"/>
<text x="927.5" y="510" font-size="31" font-weight="bold" fill="#000" font-family='"Liberation Serif", serif' textLength="73.3" lengthAdjust="spacingAndGlyphs">0.8%</text>
<text x="833" y="633.5" font-size="31.5" fill="#000" font-family='"Liberation Serif", serif'>CD15</text>
<line x1="935" y1="622.9" x2="1034.6" y2="622.9" stroke="#555" stroke-width="1.6"/>
<polygon points="1039.6,622.9 1034,619.9 1034,625.9" fill="#000" stroke="none" stroke-width="1"/>
<rect x="1081.4" y="372" width="216.6" height="210" fill="none" stroke="#555" stroke-width="1"/>
<line x1="1075.9" y1="582" x2="1081.4" y2="582" stroke="#333" stroke-width="1.1"/>
<line x1="1078.9" y1="572" x2="1081.4" y2="572" stroke="#444" stroke-width="0.9"/>
<line x1="1078.9" y1="562" x2="1081.4" y2="562" stroke="#444" stroke-width="0.9"/>
<line x1="1078.9" y1="551.9" x2="1081.4" y2="551.9" stroke="#444" stroke-width="0.9"/>
<line x1="1075.9" y1="541.9" x2="1081.4" y2="541.9" stroke="#333" stroke-width="1.1"/>
<line x1="1078.9" y1="531.9" x2="1081.4" y2="531.9" stroke="#444" stroke-width="0.9"/>
<line x1="1078.9" y1="521.9" x2="1081.4" y2="521.9" stroke="#444" stroke-width="0.9"/>
<line x1="1078.9" y1="511.8" x2="1081.4" y2="511.8" stroke="#444" stroke-width="0.9"/>
<line x1="1075.9" y1="501.8" x2="1081.4" y2="501.8" stroke="#333" stroke-width="1.1"/>
<line x1="1078.9" y1="491.8" x2="1081.4" y2="491.8" stroke="#444" stroke-width="0.9"/>
<line x1="1078.9" y1="481.8" x2="1081.4" y2="481.8" stroke="#444" stroke-width="0.9"/>
<line x1="1078.9" y1="471.7" x2="1081.4" y2="471.7" stroke="#444" stroke-width="0.9"/>
<line x1="1075.9" y1="461.7" x2="1081.4" y2="461.7" stroke="#333" stroke-width="1.1"/>
<line x1="1078.9" y1="451.7" x2="1081.4" y2="451.7" stroke="#444" stroke-width="0.9"/>
<line x1="1078.9" y1="441.6" x2="1081.4" y2="441.6" stroke="#444" stroke-width="0.9"/>
<line x1="1078.9" y1="431.6" x2="1081.4" y2="431.6" stroke="#444" stroke-width="0.9"/>
<line x1="1075.9" y1="421.6" x2="1081.4" y2="421.6" stroke="#333" stroke-width="1.1"/>
<line x1="1078.9" y1="411.6" x2="1081.4" y2="411.6" stroke="#444" stroke-width="0.9"/>
<line x1="1078.9" y1="401.5" x2="1081.4" y2="401.5" stroke="#444" stroke-width="0.9"/>
<line x1="1078.9" y1="391.5" x2="1081.4" y2="391.5" stroke="#444" stroke-width="0.9"/>
<line x1="1075.9" y1="381.5" x2="1081.4" y2="381.5" stroke="#333" stroke-width="1.1"/>
<line x1="1075.9" y1="582" x2="1298" y2="582" stroke="#555" stroke-width="1.3"/>
<line x1="1082" y1="582" x2="1082" y2="587.5" stroke="#222" stroke-width="1.1"/>
<text x="1080" y="602.9" font-size="12" fill="#111" font-family='"Liberation Serif", serif' letter-spacing="-0.4">10<tspan dy="-4.6" font-size="6.8">0</tspan></text>
<line x1="1098.3" y1="582" x2="1098.3" y2="584.6" stroke="#444" stroke-width="0.9"/>
<line x1="1107.8" y1="582" x2="1107.8" y2="584.6" stroke="#444" stroke-width="0.9"/>
<line x1="1114.5" y1="582" x2="1114.5" y2="584.6" stroke="#444" stroke-width="0.9"/>
<line x1="1119.7" y1="582" x2="1119.7" y2="585.2" stroke="#444" stroke-width="0.9"/>
<line x1="1124" y1="582" x2="1124" y2="584.6" stroke="#444" stroke-width="0.9"/>
<line x1="1127.6" y1="582" x2="1127.6" y2="584.6" stroke="#444" stroke-width="0.9"/>
<line x1="1130.8" y1="582" x2="1130.8" y2="584.6" stroke="#444" stroke-width="0.9"/>
<line x1="1133.5" y1="582" x2="1133.5" y2="584.6" stroke="#444" stroke-width="0.9"/>
<line x1="1136" y1="582" x2="1136" y2="587.5" stroke="#222" stroke-width="1.1"/>
<text x="1132" y="602.9" font-size="12" fill="#111" font-family='"Liberation Serif", serif' letter-spacing="-0.4">10<tspan dy="-4.6" font-size="6.8">1</tspan></text>
<line x1="1152.3" y1="582" x2="1152.3" y2="584.6" stroke="#444" stroke-width="0.9"/>
<line x1="1161.8" y1="582" x2="1161.8" y2="584.6" stroke="#444" stroke-width="0.9"/>
<line x1="1168.5" y1="582" x2="1168.5" y2="584.6" stroke="#444" stroke-width="0.9"/>
<line x1="1173.7" y1="582" x2="1173.7" y2="585.2" stroke="#444" stroke-width="0.9"/>
<line x1="1178" y1="582" x2="1178" y2="584.6" stroke="#444" stroke-width="0.9"/>
<line x1="1181.6" y1="582" x2="1181.6" y2="584.6" stroke="#444" stroke-width="0.9"/>
<line x1="1184.8" y1="582" x2="1184.8" y2="584.6" stroke="#444" stroke-width="0.9"/>
<line x1="1187.5" y1="582" x2="1187.5" y2="584.6" stroke="#444" stroke-width="0.9"/>
<line x1="1190" y1="582" x2="1190" y2="587.5" stroke="#222" stroke-width="1.1"/>
<text x="1186" y="602.9" font-size="12" fill="#111" font-family='"Liberation Serif", serif' letter-spacing="-0.4">10<tspan dy="-4.6" font-size="6.8">2</tspan></text>
<line x1="1206.3" y1="582" x2="1206.3" y2="584.6" stroke="#444" stroke-width="0.9"/>
<line x1="1215.8" y1="582" x2="1215.8" y2="584.6" stroke="#444" stroke-width="0.9"/>
<line x1="1222.5" y1="582" x2="1222.5" y2="584.6" stroke="#444" stroke-width="0.9"/>
<line x1="1227.7" y1="582" x2="1227.7" y2="585.2" stroke="#444" stroke-width="0.9"/>
<line x1="1232" y1="582" x2="1232" y2="584.6" stroke="#444" stroke-width="0.9"/>
<line x1="1235.6" y1="582" x2="1235.6" y2="584.6" stroke="#444" stroke-width="0.9"/>
<line x1="1238.8" y1="582" x2="1238.8" y2="584.6" stroke="#444" stroke-width="0.9"/>
<line x1="1241.5" y1="582" x2="1241.5" y2="584.6" stroke="#444" stroke-width="0.9"/>
<line x1="1244" y1="582" x2="1244" y2="587.5" stroke="#222" stroke-width="1.1"/>
<text x="1240" y="602.9" font-size="12" fill="#111" font-family='"Liberation Serif", serif' letter-spacing="-0.4">10<tspan dy="-4.6" font-size="6.8">3</tspan></text>
<line x1="1260.3" y1="582" x2="1260.3" y2="584.6" stroke="#444" stroke-width="0.9"/>
<line x1="1269.8" y1="582" x2="1269.8" y2="584.6" stroke="#444" stroke-width="0.9"/>
<line x1="1276.5" y1="582" x2="1276.5" y2="584.6" stroke="#444" stroke-width="0.9"/>
<line x1="1281.7" y1="582" x2="1281.7" y2="585.2" stroke="#444" stroke-width="0.9"/>
<line x1="1286" y1="582" x2="1286" y2="584.6" stroke="#444" stroke-width="0.9"/>
<line x1="1289.6" y1="582" x2="1289.6" y2="584.6" stroke="#444" stroke-width="0.9"/>
<line x1="1292.8" y1="582" x2="1292.8" y2="584.6" stroke="#444" stroke-width="0.9"/>
<line x1="1295.5" y1="582" x2="1295.5" y2="584.6" stroke="#444" stroke-width="0.9"/>
<line x1="1298" y1="582" x2="1298" y2="587.5" stroke="#222" stroke-width="1.1"/>
<text x="1294" y="602.9" font-size="12" fill="#111" font-family='"Liberation Serif", serif' letter-spacing="-0.4">10<tspan dy="-4.6" font-size="6.8">4</tspan></text>
<polygon points="1085,582 1085,582 1086,516.3 1089,490.3 1093.1,472.2 1096.1,420.1 1098.1,460.2 1101.1,420.1 1102.1,384 1105.1,428.1 1107.1,406.1 1110.1,428.1 1113.1,460.2 1116.1,480.2 1118.1,524.3 1122.1,558.4 1127.1,578.4 1131.1,582 1131.1,582" fill="#7f7f7f" stroke="#9a9a9a" stroke-width="0.8"/>
<polyline points="1084.4,582 1084.4,374 1086,380 1087,518.3 1089,480.2 1091.1,460.2 1095.1,456.2 1097.1,450.2 1099.1,480.2 1101.1,460.2 1103.1,420.1 1104.1,390.1 1107.1,386.1 1110.1,404.1 1113.1,406.1 1115.1,390.1 1116.7,390.1 1118.1,420.1 1121.1,464.2 1124.1,476.2 1126.1,520.3 1129.1,556.4 1133.1,570.4 1141.2,581 1149.2,580.4 1159.2,581.6 1297.5,581.6" fill="none" stroke="#3a8a12" stroke-width="3.0" stroke-linejoin="round"/>
<line x1="1132" y1="536" x2="1297.5" y2="536" stroke="#111" stroke-width="2.3"/>
<line x1="1133.3" y1="529.5" x2="1133.3" y2="542.5" stroke="#111" stroke-width="3.2"/>
<line x1="1296.2" y1="529.5" x2="1296.2" y2="542.5" stroke="#111" stroke-width="3.2"/>
<text x="1192.5" y="510" font-size="31" font-weight="bold" fill="#000" font-family='"Liberation Serif", serif' textLength="74" lengthAdjust="spacingAndGlyphs">0.9%</text>
<text x="1090" y="633.5" font-size="31.5" fill="#000" font-family='"Liberation Serif", serif'>CD57</text>
<line x1="1187" y1="622.9" x2="1286.6" y2="622.9" stroke="#555" stroke-width="1.6"/>
<polygon points="1291.6,622.9 1286,619.9 1286,625.9" fill="#000" stroke="none" stroke-width="1"/>
<rect x="53.2" y="726.2" width="221.2" height="224" fill="none" stroke="#555" stroke-width="1"/>
<line x1="47.7" y1="950.2" x2="53.2" y2="950.2" stroke="#333" stroke-width="1.1"/>
<line x1="50.7" y1="939.5" x2="53.2" y2="939.5" stroke="#444" stroke-width="0.9"/>
<line x1="50.7" y1="928.8" x2="53.2" y2="928.8" stroke="#444" stroke-width="0.9"/>
<line x1="50.7" y1="918.1" x2="53.2" y2="918.1" stroke="#444" stroke-width="0.9"/>
<line x1="47.7" y1="907.4" x2="53.2" y2="907.4" stroke="#333" stroke-width="1.1"/>
<line x1="50.7" y1="896.7" x2="53.2" y2="896.7" stroke="#444" stroke-width="0.9"/>
<line x1="50.7" y1="886" x2="53.2" y2="886" stroke="#444" stroke-width="0.9"/>
<line x1="50.7" y1="875.3" x2="53.2" y2="875.3" stroke="#444" stroke-width="0.9"/>
<line x1="47.7" y1="864.6" x2="53.2" y2="864.6" stroke="#333" stroke-width="1.1"/>
<line x1="50.7" y1="853.9" x2="53.2" y2="853.9" stroke="#444" stroke-width="0.9"/>
<line x1="50.7" y1="843.2" x2="53.2" y2="843.2" stroke="#444" stroke-width="0.9"/>
<line x1="50.7" y1="832.5" x2="53.2" y2="832.5" stroke="#444" stroke-width="0.9"/>
<line x1="47.7" y1="821.8" x2="53.2" y2="821.8" stroke="#333" stroke-width="1.1"/>
<line x1="50.7" y1="811.1" x2="53.2" y2="811.1" stroke="#444" stroke-width="0.9"/>
<line x1="50.7" y1="800.4" x2="53.2" y2="800.4" stroke="#444" stroke-width="0.9"/>
<line x1="50.7" y1="789.7" x2="53.2" y2="789.7" stroke="#444" stroke-width="0.9"/>
<line x1="47.7" y1="779" x2="53.2" y2="779" stroke="#333" stroke-width="1.1"/>
<line x1="50.7" y1="768.3" x2="53.2" y2="768.3" stroke="#444" stroke-width="0.9"/>
<line x1="50.7" y1="757.6" x2="53.2" y2="757.6" stroke="#444" stroke-width="0.9"/>
<line x1="50.7" y1="746.9" x2="53.2" y2="746.9" stroke="#444" stroke-width="0.9"/>
<line x1="47.7" y1="736.2" x2="53.2" y2="736.2" stroke="#333" stroke-width="1.1"/>
<line x1="47.7" y1="950.2" x2="274.4" y2="950.2" stroke="#555" stroke-width="1.3"/>
<line x1="54" y1="950.2" x2="54" y2="955.7" stroke="#222" stroke-width="1.1"/>
<text x="50" y="968" font-size="12" fill="#111" font-family='"Liberation Serif", serif' letter-spacing="-0.4">10<tspan dy="-4.6" font-size="6.8">0</tspan></text>
<line x1="70.5" y1="950.2" x2="70.5" y2="952.8" stroke="#444" stroke-width="0.9"/>
<line x1="80.2" y1="950.2" x2="80.2" y2="952.8" stroke="#444" stroke-width="0.9"/>
<line x1="87.1" y1="950.2" x2="87.1" y2="952.8" stroke="#444" stroke-width="0.9"/>
<line x1="92.4" y1="950.2" x2="92.4" y2="953.4" stroke="#444" stroke-width="0.9"/>
<line x1="96.8" y1="950.2" x2="96.8" y2="952.8" stroke="#444" stroke-width="0.9"/>
<line x1="100.4" y1="950.2" x2="100.4" y2="952.8" stroke="#444" stroke-width="0.9"/>
<line x1="103.6" y1="950.2" x2="103.6" y2="952.8" stroke="#444" stroke-width="0.9"/>
<line x1="106.4" y1="950.2" x2="106.4" y2="952.8" stroke="#444" stroke-width="0.9"/>
<line x1="109" y1="950.2" x2="109" y2="955.7" stroke="#222" stroke-width="1.1"/>
<text x="105" y="968" font-size="12" fill="#111" font-family='"Liberation Serif", serif' letter-spacing="-0.4">10<tspan dy="-4.6" font-size="6.8">1</tspan></text>
<line x1="125.5" y1="950.2" x2="125.5" y2="952.8" stroke="#444" stroke-width="0.9"/>
<line x1="135.2" y1="950.2" x2="135.2" y2="952.8" stroke="#444" stroke-width="0.9"/>
<line x1="142" y1="950.2" x2="142" y2="952.8" stroke="#444" stroke-width="0.9"/>
<line x1="147.4" y1="950.2" x2="147.4" y2="953.4" stroke="#444" stroke-width="0.9"/>
<line x1="151.7" y1="950.2" x2="151.7" y2="952.8" stroke="#444" stroke-width="0.9"/>
<line x1="155.4" y1="950.2" x2="155.4" y2="952.8" stroke="#444" stroke-width="0.9"/>
<line x1="158.6" y1="950.2" x2="158.6" y2="952.8" stroke="#444" stroke-width="0.9"/>
<line x1="161.4" y1="950.2" x2="161.4" y2="952.8" stroke="#444" stroke-width="0.9"/>
<line x1="163.9" y1="950.2" x2="163.9" y2="955.7" stroke="#222" stroke-width="1.1"/>
<text x="159.9" y="968" font-size="12" fill="#111" font-family='"Liberation Serif", serif' letter-spacing="-0.4">10<tspan dy="-4.6" font-size="6.8">2</tspan></text>
<line x1="180.4" y1="950.2" x2="180.4" y2="952.8" stroke="#444" stroke-width="0.9"/>
<line x1="190.1" y1="950.2" x2="190.1" y2="952.8" stroke="#444" stroke-width="0.9"/>
<line x1="197" y1="950.2" x2="197" y2="952.8" stroke="#444" stroke-width="0.9"/>
<line x1="202.3" y1="950.2" x2="202.3" y2="953.4" stroke="#444" stroke-width="0.9"/>
<line x1="206.7" y1="950.2" x2="206.7" y2="952.8" stroke="#444" stroke-width="0.9"/>
<line x1="210.3" y1="950.2" x2="210.3" y2="952.8" stroke="#444" stroke-width="0.9"/>
<line x1="213.5" y1="950.2" x2="213.5" y2="952.8" stroke="#444" stroke-width="0.9"/>
<line x1="216.3" y1="950.2" x2="216.3" y2="952.8" stroke="#444" stroke-width="0.9"/>
<line x1="218.9" y1="950.2" x2="218.9" y2="955.7" stroke="#222" stroke-width="1.1"/>
<text x="214.9" y="968" font-size="12" fill="#111" font-family='"Liberation Serif", serif' letter-spacing="-0.4">10<tspan dy="-4.6" font-size="6.8">3</tspan></text>
<line x1="235.4" y1="950.2" x2="235.4" y2="952.8" stroke="#444" stroke-width="0.9"/>
<line x1="245.1" y1="950.2" x2="245.1" y2="952.8" stroke="#444" stroke-width="0.9"/>
<line x1="251.9" y1="950.2" x2="251.9" y2="952.8" stroke="#444" stroke-width="0.9"/>
<line x1="257.3" y1="950.2" x2="257.3" y2="953.4" stroke="#444" stroke-width="0.9"/>
<line x1="261.6" y1="950.2" x2="261.6" y2="952.8" stroke="#444" stroke-width="0.9"/>
<line x1="265.3" y1="950.2" x2="265.3" y2="952.8" stroke="#444" stroke-width="0.9"/>
<line x1="268.5" y1="950.2" x2="268.5" y2="952.8" stroke="#444" stroke-width="0.9"/>
<line x1="271.3" y1="950.2" x2="271.3" y2="952.8" stroke="#444" stroke-width="0.9"/>
<line x1="273.8" y1="950.2" x2="273.8" y2="955.7" stroke="#222" stroke-width="1.1"/>
<text x="269.8" y="968" font-size="12" fill="#111" font-family='"Liberation Serif", serif' letter-spacing="-0.4">10<tspan dy="-4.6" font-size="6.8">4</tspan></text>
<polygon points="54.7,950.2 54.7,950.2 54.7,873.9 56.8,880.4 59,882.5 61.1,861 65.4,826.7 69.7,807.4 74,785.9 76.2,764.4 80.5,747.2 82.6,740.8 84.8,750.4 86.9,742.9 89.7,738.6 92.3,747.2 94.4,785.9 97.7,788 100.9,815.9 105.2,843.9 109.5,882.5 113.8,919 119.1,940.5 124.5,949.1 130.9,950.2 130.9,950.2" fill="#7f7f7f" stroke="#9a9a9a" stroke-width="0.8"/>
<polyline points="54.1,949.8 94.4,949.8 163.2,949.8 169.6,947 172.8,938.4 176,929.8 182.5,924.4 184.6,908.3 188.9,889 192.2,878.2 194.3,837.4 195.4,811.6 196.5,758 198.6,740.8 201.8,741.8 206.1,747.2 208.3,768.7 210.4,826.7 212.6,865.3 216.9,904 221.2,936.2 225.4,949.1 244.8,949.8 266.3,949.8 268.4,948" fill="none" stroke="#000" stroke-width="3.1" stroke-linejoin="round"/>
<line x1="270.8" y1="950.2" x2="271.3" y2="730" stroke="#000" stroke-width="2.4"/>
<line x1="273.4" y1="730" x2="273.4" y2="950.2" stroke="#666" stroke-width="1.0"/>
<line x1="270.6" y1="730" x2="273.4" y2="730" stroke="#333" stroke-width="1.0"/>
<line x1="132.5" y1="868.6" x2="272.7" y2="868.6" stroke="#111" stroke-width="2.3"/>
<line x1="133.8" y1="862.4" x2="133.8" y2="874.8" stroke="#111" stroke-width="3.2"/>
<line x1="271.4" y1="862.4" x2="271.4" y2="874.8" stroke="#111" stroke-width="3.2"/>
<text x="122.8" y="853" font-size="31" font-weight="bold" fill="#000" font-family='"Liberation Serif", serif' textLength="81" lengthAdjust="spacingAndGlyphs">100%</text>
<text x="52.5" y="1002" font-size="31.5" fill="#000" font-family='"Liberation Serif", serif'>SNCG</text>
<line x1="155.6" y1="991" x2="255" y2="991" stroke="#555" stroke-width="1.6"/>
<polygon points="260,991 254.4,988 254.4,994" fill="#000" stroke="none" stroke-width="1"/>
<rect x="321" y="728.3" width="225" height="219.7" fill="none" stroke="#555" stroke-width="1"/>
<line x1="315.5" y1="948" x2="321" y2="948" stroke="#333" stroke-width="1.1"/>
<line x1="318.5" y1="937.4" x2="321" y2="937.4" stroke="#444" stroke-width="0.9"/>
<line x1="318.5" y1="926.8" x2="321" y2="926.8" stroke="#444" stroke-width="0.9"/>
<line x1="318.5" y1="916.2" x2="321" y2="916.2" stroke="#444" stroke-width="0.9"/>
<line x1="315.5" y1="905.6" x2="321" y2="905.6" stroke="#333" stroke-width="1.1"/>
<line x1="318.5" y1="895" x2="321" y2="895" stroke="#444" stroke-width="0.9"/>
<line x1="318.5" y1="884.4" x2="321" y2="884.4" stroke="#444" stroke-width="0.9"/>
<line x1="318.5" y1="873.8" x2="321" y2="873.8" stroke="#444" stroke-width="0.9"/>
<line x1="315.5" y1="863.2" x2="321" y2="863.2" stroke="#333" stroke-width="1.1"/>
<line x1="318.5" y1="852.6" x2="321" y2="852.6" stroke="#444" stroke-width="0.9"/>
<line x1="318.5" y1="842" x2="321" y2="842" stroke="#444" stroke-width="0.9"/>
<line x1="318.5" y1="831.4" x2="321" y2="831.4" stroke="#444" stroke-width="0.9"/>
<line x1="315.5" y1="820.8" x2="321" y2="820.8" stroke="#333" stroke-width="1.1"/>
<line x1="318.5" y1="810.2" x2="321" y2="810.2" stroke="#444" stroke-width="0.9"/>
<line x1="318.5" y1="799.6" x2="321" y2="799.6" stroke="#444" stroke-width="0.9"/>
<line x1="318.5" y1="789" x2="321" y2="789" stroke="#444" stroke-width="0.9"/>
<line x1="315.5" y1="778.4" x2="321" y2="778.4" stroke="#333" stroke-width="1.1"/>
<line x1="318.5" y1="767.8" x2="321" y2="767.8" stroke="#444" stroke-width="0.9"/>
<line x1="318.5" y1="757.2" x2="321" y2="757.2" stroke="#444" stroke-width="0.9"/>
<line x1="318.5" y1="746.6" x2="321" y2="746.6" stroke="#444" stroke-width="0.9"/>
<line x1="315.5" y1="736" x2="321" y2="736" stroke="#333" stroke-width="1.1"/>
<line x1="315.5" y1="948" x2="546" y2="948" stroke="#555" stroke-width="1.3"/>
<line x1="322" y1="948" x2="322" y2="953.5" stroke="#222" stroke-width="1.1"/>
<text x="318" y="968" font-size="12" fill="#111" font-family='"Liberation Serif", serif' letter-spacing="-0.4">10<tspan dy="-4.6" font-size="6.8">0</tspan></text>
<line x1="338.8" y1="948" x2="338.8" y2="950.6" stroke="#444" stroke-width="0.9"/>
<line x1="348.6" y1="948" x2="348.6" y2="950.6" stroke="#444" stroke-width="0.9"/>
<line x1="355.6" y1="948" x2="355.6" y2="950.6" stroke="#444" stroke-width="0.9"/>
<line x1="361" y1="948" x2="361" y2="951.2" stroke="#444" stroke-width="0.9"/>
<line x1="365.4" y1="948" x2="365.4" y2="950.6" stroke="#444" stroke-width="0.9"/>
<line x1="369.2" y1="948" x2="369.2" y2="950.6" stroke="#444" stroke-width="0.9"/>
<line x1="372.4" y1="948" x2="372.4" y2="950.6" stroke="#444" stroke-width="0.9"/>
<line x1="375.2" y1="948" x2="375.2" y2="950.6" stroke="#444" stroke-width="0.9"/>
<line x1="377.8" y1="948" x2="377.8" y2="953.5" stroke="#222" stroke-width="1.1"/>
<text x="373.8" y="968" font-size="12" fill="#111" font-family='"Liberation Serif", serif' letter-spacing="-0.4">10<tspan dy="-4.6" font-size="6.8">1</tspan></text>
<line x1="394.6" y1="948" x2="394.6" y2="950.6" stroke="#444" stroke-width="0.9"/>
<line x1="404.4" y1="948" x2="404.4" y2="950.6" stroke="#444" stroke-width="0.9"/>
<line x1="411.4" y1="948" x2="411.4" y2="950.6" stroke="#444" stroke-width="0.9"/>
<line x1="416.8" y1="948" x2="416.8" y2="951.2" stroke="#444" stroke-width="0.9"/>
<line x1="421.2" y1="948" x2="421.2" y2="950.6" stroke="#444" stroke-width="0.9"/>
<line x1="425" y1="948" x2="425" y2="950.6" stroke="#444" stroke-width="0.9"/>
<line x1="428.2" y1="948" x2="428.2" y2="950.6" stroke="#444" stroke-width="0.9"/>
<line x1="431" y1="948" x2="431" y2="950.6" stroke="#444" stroke-width="0.9"/>
<line x1="433.6" y1="948" x2="433.6" y2="953.5" stroke="#222" stroke-width="1.1"/>
<text x="429.6" y="968" font-size="12" fill="#111" font-family='"Liberation Serif", serif' letter-spacing="-0.4">10<tspan dy="-4.6" font-size="6.8">2</tspan></text>
<line x1="450.4" y1="948" x2="450.4" y2="950.6" stroke="#444" stroke-width="0.9"/>
<line x1="460.2" y1="948" x2="460.2" y2="950.6" stroke="#444" stroke-width="0.9"/>
<line x1="467.2" y1="948" x2="467.2" y2="950.6" stroke="#444" stroke-width="0.9"/>
<line x1="472.6" y1="948" x2="472.6" y2="951.2" stroke="#444" stroke-width="0.9"/>
<line x1="477" y1="948" x2="477" y2="950.6" stroke="#444" stroke-width="0.9"/>
<line x1="480.8" y1="948" x2="480.8" y2="950.6" stroke="#444" stroke-width="0.9"/>
<line x1="484" y1="948" x2="484" y2="950.6" stroke="#444" stroke-width="0.9"/>
<line x1="486.8" y1="948" x2="486.8" y2="950.6" stroke="#444" stroke-width="0.9"/>
<line x1="489.4" y1="948" x2="489.4" y2="953.5" stroke="#222" stroke-width="1.1"/>
<text x="485.4" y="968" font-size="12" fill="#111" font-family='"Liberation Serif", serif' letter-spacing="-0.4">10<tspan dy="-4.6" font-size="6.8">3</tspan></text>
<line x1="506.2" y1="948" x2="506.2" y2="950.6" stroke="#444" stroke-width="0.9"/>
<line x1="516" y1="948" x2="516" y2="950.6" stroke="#444" stroke-width="0.9"/>
<line x1="523" y1="948" x2="523" y2="950.6" stroke="#444" stroke-width="0.9"/>
<line x1="528.4" y1="948" x2="528.4" y2="951.2" stroke="#444" stroke-width="0.9"/>
<line x1="532.8" y1="948" x2="532.8" y2="950.6" stroke="#444" stroke-width="0.9"/>
<line x1="536.6" y1="948" x2="536.6" y2="950.6" stroke="#444" stroke-width="0.9"/>
<line x1="539.8" y1="948" x2="539.8" y2="950.6" stroke="#444" stroke-width="0.9"/>
<line x1="542.6" y1="948" x2="542.6" y2="950.6" stroke="#444" stroke-width="0.9"/>
<line x1="545.2" y1="948" x2="545.2" y2="953.5" stroke="#222" stroke-width="1.1"/>
<text x="541.2" y="968" font-size="12" fill="#111" font-family='"Liberation Serif", serif' letter-spacing="-0.4">10<tspan dy="-4.6" font-size="6.8">4</tspan></text>
<polygon points="327.9,948 327.9,948 327.9,861 332.2,835.3 336.5,811.6 340.8,785.9 344,766.5 347.3,751.5 350.5,742.9 352.6,749.4 354.8,744 357.6,740.8 360.1,751.5 363.4,777.3 366.6,788 370.9,822.4 375.2,854.6 379.5,884.7 383.8,914.7 388.1,934.1 394.5,948 394.5,948" fill="#7f7f7f" stroke="#9a9a9a" stroke-width="0.8"/>
<polyline points="323.2,948 323.6,860 325.8,897.6 329,940.5 331.1,947.6 343,947.6 393.4,947.6 398.8,936.2 404.2,929.8 409.5,940.5 411.7,947 417.1,947 420.3,938.4 424.6,929.8 429.9,937.3 434.2,931.9 437.5,899.7 441.8,887.9 447.1,889 449.3,869.6 451.4,835.3 453.6,823.5 455.7,835.3 456.8,852.5 460,854.6 464.3,858.9 467.5,822.4 469.7,805.2 471.8,785.9 476.1,777.3 478.3,747.2 480.4,740.8 482.6,758 484.7,790.2 486.9,839.6 492.2,886.8 496.5,929.8 499.7,944.8 503,936.2 506.2,931.9 510.5,933 514.8,944.8 516.9,947.6 540.5,947.6" fill="none" stroke="#000" stroke-width="3.1" stroke-linejoin="round"/>
<line x1="542.6" y1="948" x2="543.1" y2="730" stroke="#000" stroke-width="2.4"/>
<line x1="545.2" y1="730" x2="545.2" y2="948" stroke="#666" stroke-width="1.0"/>
<line x1="542.4" y1="730" x2="545.2" y2="730" stroke="#333" stroke-width="1.0"/>
<line x1="401.6" y1="868.6" x2="544.9" y2="868.6" stroke="#111" stroke-width="2.3"/>
<line x1="402.9" y1="862.4" x2="402.9" y2="874.8" stroke="#111" stroke-width="3.2"/>
<line x1="543.6" y1="862.4" x2="543.6" y2="874.8" stroke="#111" stroke-width="3.2"/>
<text x="384.8" y="853" font-size="31" font-weight="bold" fill="#000" font-family='"Liberation Serif", serif' textLength="81" lengthAdjust="spacingAndGlyphs">100%</text>
<text x="322.5" y="1002" font-size="31.5" fill="#000" font-family='"Liberation Serif", serif'>BRN3A</text>
<line x1="428.4" y1="991" x2="527.4" y2="991" stroke="#555" stroke-width="1.6"/>
<polygon points="532.4,991 526.8,988 526.8,994" fill="#000" stroke="none" stroke-width="1"/>
<rect x="596.2" y="729.4" width="229.4" height="221.9" fill="none" stroke="#555" stroke-width="1"/>
<line x1="590.7" y1="951.3" x2="596.2" y2="951.3" stroke="#333" stroke-width="1.1"/>
<line x1="593.7" y1="940.7" x2="596.2" y2="940.7" stroke="#444" stroke-width="0.9"/>
<line x1="593.7" y1="930.1" x2="596.2" y2="930.1" stroke="#444" stroke-width="0.9"/>
<line x1="593.7" y1="919.5" x2="596.2" y2="919.5" stroke="#444" stroke-width="0.9"/>
<line x1="590.7" y1="908.9" x2="596.2" y2="908.9" stroke="#333" stroke-width="1.1"/>
<line x1="593.7" y1="898.3" x2="596.2" y2="898.3" stroke="#444" stroke-width="0.9"/>
<line x1="593.7" y1="887.7" x2="596.2" y2="887.7" stroke="#444" stroke-width="0.9"/>
<line x1="593.7" y1="877.1" x2="596.2" y2="877.1" stroke="#444" stroke-width="0.9"/>
<line x1="590.7" y1="866.5" x2="596.2" y2="866.5" stroke="#333" stroke-width="1.1"/>
<line x1="593.7" y1="855.9" x2="596.2" y2="855.9" stroke="#444" stroke-width="0.9"/>
<line x1="593.7" y1="845.3" x2="596.2" y2="845.3" stroke="#444" stroke-width="0.9"/>
<line x1="593.7" y1="834.7" x2="596.2" y2="834.7" stroke="#444" stroke-width="0.9"/>
<line x1="590.7" y1="824.1" x2="596.2" y2="824.1" stroke="#333" stroke-width="1.1"/>
<line x1="593.7" y1="813.5" x2="596.2" y2="813.5" stroke="#444" stroke-width="0.9"/>
<line x1="593.7" y1="802.9" x2="596.2" y2="802.9" stroke="#444" stroke-width="0.9"/>
<line x1="593.7" y1="792.3" x2="596.2" y2="792.3" stroke="#444" stroke-width="0.9"/>
<line x1="590.7" y1="781.7" x2="596.2" y2="781.7" stroke="#333" stroke-width="1.1"/>
<line x1="593.7" y1="771.1" x2="596.2" y2="771.1" stroke="#444" stroke-width="0.9"/>
<line x1="593.7" y1="760.5" x2="596.2" y2="760.5" stroke="#444" stroke-width="0.9"/>
<line x1="593.7" y1="749.9" x2="596.2" y2="749.9" stroke="#444" stroke-width="0.9"/>
<line x1="590.7" y1="739.3" x2="596.2" y2="739.3" stroke="#333" stroke-width="1.1"/>
<line x1="590.7" y1="951.3" x2="825.6" y2="951.3" stroke="#555" stroke-width="1.3"/>
<line x1="596.8" y1="951.3" x2="596.8" y2="956.8" stroke="#222" stroke-width="1.1"/>
<text x="596.8" y="968" font-size="12" fill="#111" font-family='"Liberation Serif", serif' letter-spacing="-0.4">10<tspan dy="-4.6" font-size="6.8">0</tspan></text>
<line x1="614" y1="951.3" x2="614" y2="953.9" stroke="#444" stroke-width="0.9"/>
<line x1="624" y1="951.3" x2="624" y2="953.9" stroke="#444" stroke-width="0.9"/>
<line x1="631.2" y1="951.3" x2="631.2" y2="953.9" stroke="#444" stroke-width="0.9"/>
<line x1="636.7" y1="951.3" x2="636.7" y2="954.5" stroke="#444" stroke-width="0.9"/>
<line x1="641.2" y1="951.3" x2="641.2" y2="953.9" stroke="#444" stroke-width="0.9"/>
<line x1="645.1" y1="951.3" x2="645.1" y2="953.9" stroke="#444" stroke-width="0.9"/>
<line x1="648.4" y1="951.3" x2="648.4" y2="953.9" stroke="#444" stroke-width="0.9"/>
<line x1="651.3" y1="951.3" x2="651.3" y2="953.9" stroke="#444" stroke-width="0.9"/>
<line x1="653.9" y1="951.3" x2="653.9" y2="956.8" stroke="#222" stroke-width="1.1"/>
<text x="649.9" y="968" font-size="12" fill="#111" font-family='"Liberation Serif", serif' letter-spacing="-0.4">10<tspan dy="-4.6" font-size="6.8">1</tspan></text>
<line x1="671.1" y1="951.3" x2="671.1" y2="953.9" stroke="#444" stroke-width="0.9"/>
<line x1="681.1" y1="951.3" x2="681.1" y2="953.9" stroke="#444" stroke-width="0.9"/>
<line x1="688.3" y1="951.3" x2="688.3" y2="953.9" stroke="#444" stroke-width="0.9"/>
<line x1="693.8" y1="951.3" x2="693.8" y2="954.5" stroke="#444" stroke-width="0.9"/>
<line x1="698.3" y1="951.3" x2="698.3" y2="953.9" stroke="#444" stroke-width="0.9"/>
<line x1="702.2" y1="951.3" x2="702.2" y2="953.9" stroke="#444" stroke-width="0.9"/>
<line x1="705.5" y1="951.3" x2="705.5" y2="953.9" stroke="#444" stroke-width="0.9"/>
<line x1="708.4" y1="951.3" x2="708.4" y2="953.9" stroke="#444" stroke-width="0.9"/>
<line x1="711" y1="951.3" x2="711" y2="956.8" stroke="#222" stroke-width="1.1"/>
<text x="707" y="968" font-size="12" fill="#111" font-family='"Liberation Serif", serif' letter-spacing="-0.4">10<tspan dy="-4.6" font-size="6.8">2</tspan></text>
<line x1="728.2" y1="951.3" x2="728.2" y2="953.9" stroke="#444" stroke-width="0.9"/>
<line x1="738.2" y1="951.3" x2="738.2" y2="953.9" stroke="#444" stroke-width="0.9"/>
<line x1="745.4" y1="951.3" x2="745.4" y2="953.9" stroke="#444" stroke-width="0.9"/>
<line x1="750.9" y1="951.3" x2="750.9" y2="954.5" stroke="#444" stroke-width="0.9"/>
<line x1="755.4" y1="951.3" x2="755.4" y2="953.9" stroke="#444" stroke-width="0.9"/>
<line x1="759.3" y1="951.3" x2="759.3" y2="953.9" stroke="#444" stroke-width="0.9"/>
<line x1="762.6" y1="951.3" x2="762.6" y2="953.9" stroke="#444" stroke-width="0.9"/>
<line x1="765.5" y1="951.3" x2="765.5" y2="953.9" stroke="#444" stroke-width="0.9"/>
<line x1="768.1" y1="951.3" x2="768.1" y2="956.8" stroke="#222" stroke-width="1.1"/>
<text x="764.1" y="968" font-size="12" fill="#111" font-family='"Liberation Serif", serif' letter-spacing="-0.4">10<tspan dy="-4.6" font-size="6.8">3</tspan></text>
<line x1="785.3" y1="951.3" x2="785.3" y2="953.9" stroke="#444" stroke-width="0.9"/>
<line x1="795.3" y1="951.3" x2="795.3" y2="953.9" stroke="#444" stroke-width="0.9"/>
<line x1="802.5" y1="951.3" x2="802.5" y2="953.9" stroke="#444" stroke-width="0.9"/>
<line x1="808" y1="951.3" x2="808" y2="954.5" stroke="#444" stroke-width="0.9"/>
<line x1="812.5" y1="951.3" x2="812.5" y2="953.9" stroke="#444" stroke-width="0.9"/>
<line x1="816.4" y1="951.3" x2="816.4" y2="953.9" stroke="#444" stroke-width="0.9"/>
<line x1="819.7" y1="951.3" x2="819.7" y2="953.9" stroke="#444" stroke-width="0.9"/>
<line x1="822.6" y1="951.3" x2="822.6" y2="953.9" stroke="#444" stroke-width="0.9"/>
<line x1="825.2" y1="951.3" x2="825.2" y2="956.8" stroke="#222" stroke-width="1.1"/>
<text x="821.2" y="968" font-size="12" fill="#111" font-family='"Liberation Serif", serif' letter-spacing="-0.4">10<tspan dy="-4.6" font-size="6.8">4</tspan></text>
<polygon points="597.9,951.3 597.9,951.3 597.9,876.1 601.1,884.7 603.3,865.3 605.4,852.5 609.7,826.7 613,811.6 616.2,785.9 619.4,768.7 622.6,753.7 626.3,742.9 628.4,753.7 631.2,747.2 633.4,741.8 636.6,758 639.8,779.4 643,792.3 647.3,822.4 651.6,854.6 655.9,886.8 660.2,921.2 665.6,942.7 670.9,951.3 670.9,951.3" fill="#7f7f7f" stroke="#9a9a9a" stroke-width="0.8"/>
<polyline points="597.5,951.3 598.4,929.8 600.1,942.7 604.4,950.2 645.2,951.3 660.2,950.2 670.9,945.9 679.5,944.8 681.7,939.4 689.2,934.1 694.6,929.8 698.9,922.3 703.2,914.7 706.4,904 709.6,899.7 712.8,891.1 716,889 718.2,865.3 720.3,846 723.6,837.4 725.7,813.8 727.9,785.9 731.1,790.2 733.2,753.7 734.3,746.1 736.5,747.2 737.5,775.1 740.7,790.2 745,788 747.2,782.7 749.3,785.9 752.6,800.9 754.7,835.3 757.9,865.3 761.2,899.7 765.4,908.3 769.7,927.6 774,944.8 782.6,950.2 825.2,950.2" fill="none" stroke="#000" stroke-width="3.1" stroke-linejoin="round"/>
<line x1="678" y1="870.7" x2="823.4" y2="870.7" stroke="#111" stroke-width="2.3"/>
<line x1="679.3" y1="864.5" x2="679.3" y2="876.9" stroke="#111" stroke-width="3.2"/>
<line x1="822.1" y1="864.5" x2="822.1" y2="876.9" stroke="#111" stroke-width="3.2"/>
<text x="752.6" y="853" font-size="31" font-weight="bold" fill="#000" font-family='"Liberation Serif", serif' textLength="66.5" lengthAdjust="spacingAndGlyphs">99%</text>
<text x="604.4" y="1002" font-size="31.5" fill="#000" font-family='"Liberation Serif", serif'>TUJ1</text>
<line x1="707" y1="991" x2="806.6" y2="991" stroke="#555" stroke-width="1.6"/>
<polygon points="811.6,991 806,988 806,994" fill="#000" stroke="none" stroke-width="1"/>
<rect x="876.2" y="729.4" width="231.1" height="221.9" fill="none" stroke="#555" stroke-width="1"/>
<line x1="870.7" y1="951.3" x2="876.2" y2="951.3" stroke="#333" stroke-width="1.1"/>
<line x1="873.7" y1="940.7" x2="876.2" y2="940.7" stroke="#444" stroke-width="0.9"/>
<line x1="873.7" y1="930.1" x2="876.2" y2="930.1" stroke="#444" stroke-width="0.9"/>
<line x1="873.7" y1="919.5" x2="876.2" y2="919.5" stroke="#444" stroke-width="0.9"/>
<line x1="870.7" y1="908.9" x2="876.2" y2="908.9" stroke="#333" stroke-width="1.1"/>
<line x1="873.7" y1="898.3" x2="876.2" y2="898.3" stroke="#444" stroke-width="0.9"/>
<line x1="873.7" y1="887.7" x2="876.2" y2="887.7" stroke="#444" stroke-width="0.9"/>
<line x1="873.7" y1="877.1" x2="876.2" y2="877.1" stroke="#444" stroke-width="0.9"/>
<line x1="870.7" y1="866.5" x2="876.2" y2="866.5" stroke="#333" stroke-width="1.1"/>
<line x1="873.7" y1="855.9" x2="876.2" y2="855.9" stroke="#444" stroke-width="0.9"/>
<line x1="873.7" y1="845.3" x2="876.2" y2="845.3" stroke="#444" stroke-width="0.9"/>
<line x1="873.7" y1="834.7" x2="876.2" y2="834.7" stroke="#444" stroke-width="0.9"/>
<line x1="870.7" y1="824.1" x2="876.2" y2="824.1" stroke="#333" stroke-width="1.1"/>
<line x1="873.7" y1="813.5" x2="876.2" y2="813.5" stroke="#444" stroke-width="0.9"/>
<line x1="873.7" y1="802.9" x2="876.2" y2="802.9" stroke="#444" stroke-width="0.9"/>
<line x1="873.7" y1="792.3" x2="876.2" y2="792.3" stroke="#444" stroke-width="0.9"/>
<line x1="870.7" y1="781.7" x2="876.2" y2="781.7" stroke="#333" stroke-width="1.1"/>
<line x1="873.7" y1="771.1" x2="876.2" y2="771.1" stroke="#444" stroke-width="0.9"/>
<line x1="873.7" y1="760.5" x2="876.2" y2="760.5" stroke="#444" stroke-width="0.9"/>
<line x1="873.7" y1="749.9" x2="876.2" y2="749.9" stroke="#444" stroke-width="0.9"/>
<line x1="870.7" y1="739.3" x2="876.2" y2="739.3" stroke="#333" stroke-width="1.1"/>
<line x1="870.7" y1="951.3" x2="1107.3" y2="951.3" stroke="#555" stroke-width="1.3"/>
<line x1="876.8" y1="951.3" x2="876.8" y2="956.8" stroke="#222" stroke-width="1.1"/>
<text x="880.4" y="968" font-size="12" fill="#111" font-family='"Liberation Serif", serif' letter-spacing="-0.4">10<tspan dy="-4.6" font-size="6.8">0</tspan></text>
<line x1="894.1" y1="951.3" x2="894.1" y2="953.9" stroke="#444" stroke-width="0.9"/>
<line x1="904.2" y1="951.3" x2="904.2" y2="953.9" stroke="#444" stroke-width="0.9"/>
<line x1="911.4" y1="951.3" x2="911.4" y2="953.9" stroke="#444" stroke-width="0.9"/>
<line x1="917" y1="951.3" x2="917" y2="954.5" stroke="#444" stroke-width="0.9"/>
<line x1="921.5" y1="951.3" x2="921.5" y2="953.9" stroke="#444" stroke-width="0.9"/>
<line x1="925.4" y1="951.3" x2="925.4" y2="953.9" stroke="#444" stroke-width="0.9"/>
<line x1="928.7" y1="951.3" x2="928.7" y2="953.9" stroke="#444" stroke-width="0.9"/>
<line x1="931.7" y1="951.3" x2="931.7" y2="953.9" stroke="#444" stroke-width="0.9"/>
<line x1="934.3" y1="951.3" x2="934.3" y2="956.8" stroke="#222" stroke-width="1.1"/>
<text x="930.3" y="968" font-size="12" fill="#111" font-family='"Liberation Serif", serif' letter-spacing="-0.4">10<tspan dy="-4.6" font-size="6.8">1</tspan></text>
<line x1="951.6" y1="951.3" x2="951.6" y2="953.9" stroke="#444" stroke-width="0.9"/>
<line x1="961.7" y1="951.3" x2="961.7" y2="953.9" stroke="#444" stroke-width="0.9"/>
<line x1="968.9" y1="951.3" x2="968.9" y2="953.9" stroke="#444" stroke-width="0.9"/>
<line x1="974.5" y1="951.3" x2="974.5" y2="954.5" stroke="#444" stroke-width="0.9"/>
<line x1="979" y1="951.3" x2="979" y2="953.9" stroke="#444" stroke-width="0.9"/>
<line x1="982.9" y1="951.3" x2="982.9" y2="953.9" stroke="#444" stroke-width="0.9"/>
<line x1="986.2" y1="951.3" x2="986.2" y2="953.9" stroke="#444" stroke-width="0.9"/>
<line x1="989.2" y1="951.3" x2="989.2" y2="953.9" stroke="#444" stroke-width="0.9"/>
<line x1="991.8" y1="951.3" x2="991.8" y2="956.8" stroke="#222" stroke-width="1.1"/>
<text x="987.8" y="968" font-size="12" fill="#111" font-family='"Liberation Serif", serif' letter-spacing="-0.4">10<tspan dy="-4.6" font-size="6.8">2</tspan></text>
<line x1="1009.1" y1="951.3" x2="1009.1" y2="953.9" stroke="#444" stroke-width="0.9"/>
<line x1="1019.2" y1="951.3" x2="1019.2" y2="953.9" stroke="#444" stroke-width="0.9"/>
<line x1="1026.4" y1="951.3" x2="1026.4" y2="953.9" stroke="#444" stroke-width="0.9"/>
<line x1="1032" y1="951.3" x2="1032" y2="954.5" stroke="#444" stroke-width="0.9"/>
<line x1="1036.5" y1="951.3" x2="1036.5" y2="953.9" stroke="#444" stroke-width="0.9"/>
<line x1="1040.4" y1="951.3" x2="1040.4" y2="953.9" stroke="#444" stroke-width="0.9"/>
<line x1="1043.7" y1="951.3" x2="1043.7" y2="953.9" stroke="#444" stroke-width="0.9"/>
<line x1="1046.7" y1="951.3" x2="1046.7" y2="953.9" stroke="#444" stroke-width="0.9"/>
<line x1="1049.3" y1="951.3" x2="1049.3" y2="956.8" stroke="#222" stroke-width="1.1"/>
<text x="1045.3" y="968" font-size="12" fill="#111" font-family='"Liberation Serif", serif' letter-spacing="-0.4">10<tspan dy="-4.6" font-size="6.8">3</tspan></text>
<line x1="1066.6" y1="951.3" x2="1066.6" y2="953.9" stroke="#444" stroke-width="0.9"/>
<line x1="1076.7" y1="951.3" x2="1076.7" y2="953.9" stroke="#444" stroke-width="0.9"/>
<line x1="1083.9" y1="951.3" x2="1083.9" y2="953.9" stroke="#444" stroke-width="0.9"/>
<line x1="1089.5" y1="951.3" x2="1089.5" y2="954.5" stroke="#444" stroke-width="0.9"/>
<line x1="1094" y1="951.3" x2="1094" y2="953.9" stroke="#444" stroke-width="0.9"/>
<line x1="1097.9" y1="951.3" x2="1097.9" y2="953.9" stroke="#444" stroke-width="0.9"/>
<line x1="1101.2" y1="951.3" x2="1101.2" y2="953.9" stroke="#444" stroke-width="0.9"/>
<line x1="1104.2" y1="951.3" x2="1104.2" y2="953.9" stroke="#444" stroke-width="0.9"/>
<line x1="1106.8" y1="951.3" x2="1106.8" y2="956.8" stroke="#222" stroke-width="1.1"/>
<text x="1102.8" y="968" font-size="12" fill="#111" font-family='"Liberation Serif", serif' letter-spacing="-0.4">10<tspan dy="-4.6" font-size="6.8">4</tspan></text>
<polygon points="882.2,951.3 882.2,951.3 883.3,863.2 885.4,852.5 889.7,826.7 894,807.4 897.3,777.3 901.5,762.3 904.8,749.4 906.9,745.1 909.1,753.7 912.3,745.1 914.4,742.9 917.7,758 920.9,779.4 924.1,794.5 927.3,824.5 932.7,861 937,897.6 941.3,923.3 945.6,942.7 952,951.3 952,951.3" fill="#7f7f7f" stroke="#9a9a9a" stroke-width="0.8"/>
<polyline points="879,951.3 879.6,734.3 880.5,822.4 882.2,925.5 885.4,949.1 888.7,951.3 944.5,951.3 948.8,940.5 952,924.4 955.2,925.5 958.5,940.5 962.8,942.7 967.1,921.2 970.3,912.6 976.7,907.2 982.1,899.7 984.2,891.1 987.5,886.8 990.7,904 993.9,938.4 996,940.5 999.3,899.7 1001.4,854.6 1003.6,820.2 1004.6,802 1007.9,807.4 1010,852.5 1012.2,897.6 1013.2,911.5 1015.4,884.7 1018.6,818.1 1020.7,771.9 1023.5,773 1026.1,811.6 1028.3,829.9 1031.5,831 1033.6,815.9 1035.8,768.7 1037.5,744 1039,751.5 1041.2,781.6 1044.4,784.8 1047.2,767.6 1049.3,777.3 1050.8,794.5 1053,805.2 1055.1,835.3 1058.3,895.4 1061.6,938.4 1064.8,951.3 1094.8,951.3 1101.3,947" fill="none" stroke="#000" stroke-width="3.1" stroke-linejoin="round"/>
<line x1="1103.6" y1="951.3" x2="1104.1" y2="732" stroke="#000" stroke-width="2.4"/>
<line x1="1106.2" y1="732" x2="1106.2" y2="951.3" stroke="#666" stroke-width="1.0"/>
<line x1="1103.4" y1="732" x2="1106.2" y2="732" stroke="#333" stroke-width="1.0"/>
<line x1="959" y1="870.7" x2="1105.6" y2="870.7" stroke="#111" stroke-width="2.3"/>
<line x1="960.3" y1="864.5" x2="960.3" y2="876.9" stroke="#111" stroke-width="3.2"/>
<line x1="1104.3" y1="864.5" x2="1104.3" y2="876.9" stroke="#111" stroke-width="3.2"/>
<text x="1038" y="853" font-size="31" font-weight="bold" fill="#000" font-family='"Liberation Serif", serif' textLength="66.5" lengthAdjust="spacingAndGlyphs">99%</text>
<text x="882.6" y="1002" font-size="31.5" fill="#000" font-family='"Liberation Serif", serif'>RBPMS</text>
<line x1="991.7" y1="991" x2="1091.6" y2="991" stroke="#555" stroke-width="1.6"/>
<polygon points="1096.6,991 1091,988 1091,994" fill="#000" stroke="none" stroke-width="1"/>
<text x="117" y="1112.3" font-size="32" text-anchor="middle" fill="#000" font-family='"Liberation Serif", serif' letter-spacing="0.3">Bright</text>
<text x="116.5" y="1137.2" font-size="32" text-anchor="middle" fill="#000" font-family='"Liberation Serif", serif' letter-spacing="0.8">Field</text>
<text x="251.8" y="1137" font-size="32" text-anchor="middle" fill="#000" font-family='"Liberation Serif", serif'>RBPMS</text>
<text x="401.7" y="1136.2" font-size="32" text-anchor="middle" fill="#000" font-family='"Liberation Serif", serif'>CD90.2</text>
<text x="540.5" y="1136.2" font-size="32" text-anchor="middle" fill="#000" font-family='"Liberation Serif", serif'>Merge</text>
<polygon points="47.4,1142.3 180.1,1142.3 180.1,1258.7 47.4,1258.7" fill="#868686" stroke="none" stroke-width="1"/>
<polygon points="180.1,1142.3 473.5,1142.3 473.5,1258.7 180.1,1258.7" fill="#000" stroke="none" stroke-width="1"/>
<polygon points="473.5,1142.3 603,1142.3 604.6,1258.7 473.5,1258.7" fill="#878787" stroke="none" stroke-width="1"/>
<polygon points="48.3,1273.2 182,1273.2 182,1397 48.3,1397" fill="#868686" stroke="none" stroke-width="1"/>
<polygon points="182,1273.2 474.2,1273.2 474.2,1397 182,1397" fill="#000" stroke="none" stroke-width="1"/>
<polygon points="474.2,1273.2 604.6,1273.2 606,1397 474.2,1397" fill="#878787" stroke="none" stroke-width="1"/>
<circle cx="107.6" cy="1201.2" r="13.2" fill="none" stroke="#a2a2a2" stroke-width="3" filter="url(#b1.2)"/>
<circle cx="107" cy="1201.5" r="10.5" fill="#656565" filter="url(#b1)"/>
<ellipse cx="102.5" cy="1204" rx="5" ry="6.5" fill="#3c3c3c" filter="url(#b2)"/>
<ellipse cx="109.5" cy="1195" rx="4" ry="3" fill="#383838" filter="url(#b1.5)"/>
<ellipse cx="112.5" cy="1205" rx="2.5" ry="4.5" fill="#7c7c7c" filter="url(#b1.5)"/>
<circle cx="116.9" cy="1212.8" r="2.2" fill="#404040" filter="url(#b0.8)"/>
<circle cx="252.2" cy="1200.5" r="13.5" fill="url(#gG)"/>
<circle cx="397" cy="1200.8" r="13.5" fill="url(#gR)"/>
<circle cx="543.4" cy="1200.8" r="16" fill="url(#gM1)"/>
<circle cx="548" cy="1193" r="3" fill="#ff8030" filter="url(#b1.5)" opacity="0.8"/>
<circle cx="555" cy="1213" r="2" fill="#303030" filter="url(#b0.8)"/>
<path d="M101 1317 A12 12 0 0 1 105 1341" fill="none" stroke="#9a9a9a" stroke-width="2.5" filter="url(#b1.2)"/>
<circle cx="97.6" cy="1328.4" r="10" fill="#727272" filter="url(#b1.5)"/>
<ellipse cx="95" cy="1324" rx="7" ry="4" fill="#5c5c5c" filter="url(#b1.5)"/>
<circle cx="90.5" cy="1322.5" r="3.2" fill="#1e1e1e" filter="url(#b1.2)"/>
<circle cx="107.3" cy="1334.2" r="2.2" fill="#3a3a3a" filter="url(#b1)"/>
<circle cx="242.2" cy="1328.4" r="12.5" fill="url(#gG)"/>
<circle cx="388.2" cy="1330.6" r="13" fill="url(#gR)"/>
<circle cx="533.9" cy="1330.2" r="14.5" fill="url(#gM2)"/>
<circle cx="528" cy="1321" r="2.5" fill="#707010" filter="url(#b1)"/>
<circle cx="546.5" cy="1334.5" r="2" fill="#303030" filter="url(#b0.8)"/>
<rect x="50" y="1377.3" width="49" height="7" fill="#a4a4a4"/>
<rect x="50.4" y="1377.3" width="9.3" height="7" fill="#fff"/>
<rect x="69" y="1377.3" width="10.4" height="7" fill="#fff"/>
<rect x="88.7" y="1377.3" width="9.8" height="7" fill="#fff"/>
<text x="103" y="1388.5" font-size="26" fill="#fff" font-family='"Liberation Sans", sans-serif'>20 μm</text>
<g clip-path="url(#cDIC)">
<rect x="860" y="1145.3" width="286" height="234" fill="url(#gDIC2)"/>
<ellipse cx="925" cy="1160" rx="14" ry="12" fill="#505050" opacity="0.3" filter="url(#b4)"/>
<ellipse cx="905" cy="1186" rx="16" ry="12" fill="#4c4c4c" opacity="0.3" filter="url(#b4)"/>
<ellipse cx="893" cy="1310" rx="12" ry="12" fill="#4c4c4c" opacity="0.25" filter="url(#b4)"/>
<path d="M893 1206 Q900 1198 914 1199 Q922 1202 921 1214 Q918 1228 905 1230 Q893 1228 891 1216 Z" fill="#9a9a9a" stroke="#5a5a5a" stroke-width="1.4" filter="url(#b0.8)"/>
<ellipse cx="905" cy="1214" rx="7" ry="6" fill="#b0b0b0" filter="url(#b2)"/>
<path d="M916 1206 l5 -8 l-3 -8 l5 -6 l-1 -6 l2 -5 M919 1212 l7 -6 l1 -8 l-3 -4 M923 1203 l4 0" stroke="#a8a8a8" stroke-width="1.1" fill="none" filter="url(#b0.8)"/>
<path d="M917 1208 l6 -3 l4 -8" stroke="#3a3a3a" stroke-width="1" fill="none" filter="url(#b0.8)"/>
<ellipse cx="1097.3" cy="1249.3" rx="10" ry="13" fill="#666" stroke="#3e3e3e" stroke-width="1.6" filter="url(#b0.8)"/>
<ellipse cx="1095" cy="1247" rx="4" ry="6" fill="#777" filter="url(#b2)"/>
<circle cx="1106" cy="1247" r="1.3" fill="#ddd" filter="url(#b0.8)"/>
<ellipse cx="1095.5" cy="1308" rx="13.5" ry="9" fill="#1c1c1c" transform="rotate(-22 1095.5 1308)" filter="url(#b1)"/>
<path d="M1087 1312 Q1094 1304 1104 1305 Q1100 1311 1090 1314 Z" fill="#f2f2f2" filter="url(#b0.8)"/>
</g>
<text x="1076" y="1349.3" font-size="13" font-weight="bold" fill="#f4f4f4" font-family='"Liberation Sans", sans-serif'>20</text>
<text x="1095" y="1349.3" font-size="13.5" fill="#f0f0f0" font-family='"Liberation Sans", sans-serif'>μm</text>
<rect x="1076" y="1356.8" width="37.5" height="2.4" fill="#e8e8e8"/>
<text x="867" y="1372" font-size="13.5" font-weight="bold" fill="#eee" font-family='"Liberation Sans", sans-serif'>DIC Image</text></svg></body></html>
